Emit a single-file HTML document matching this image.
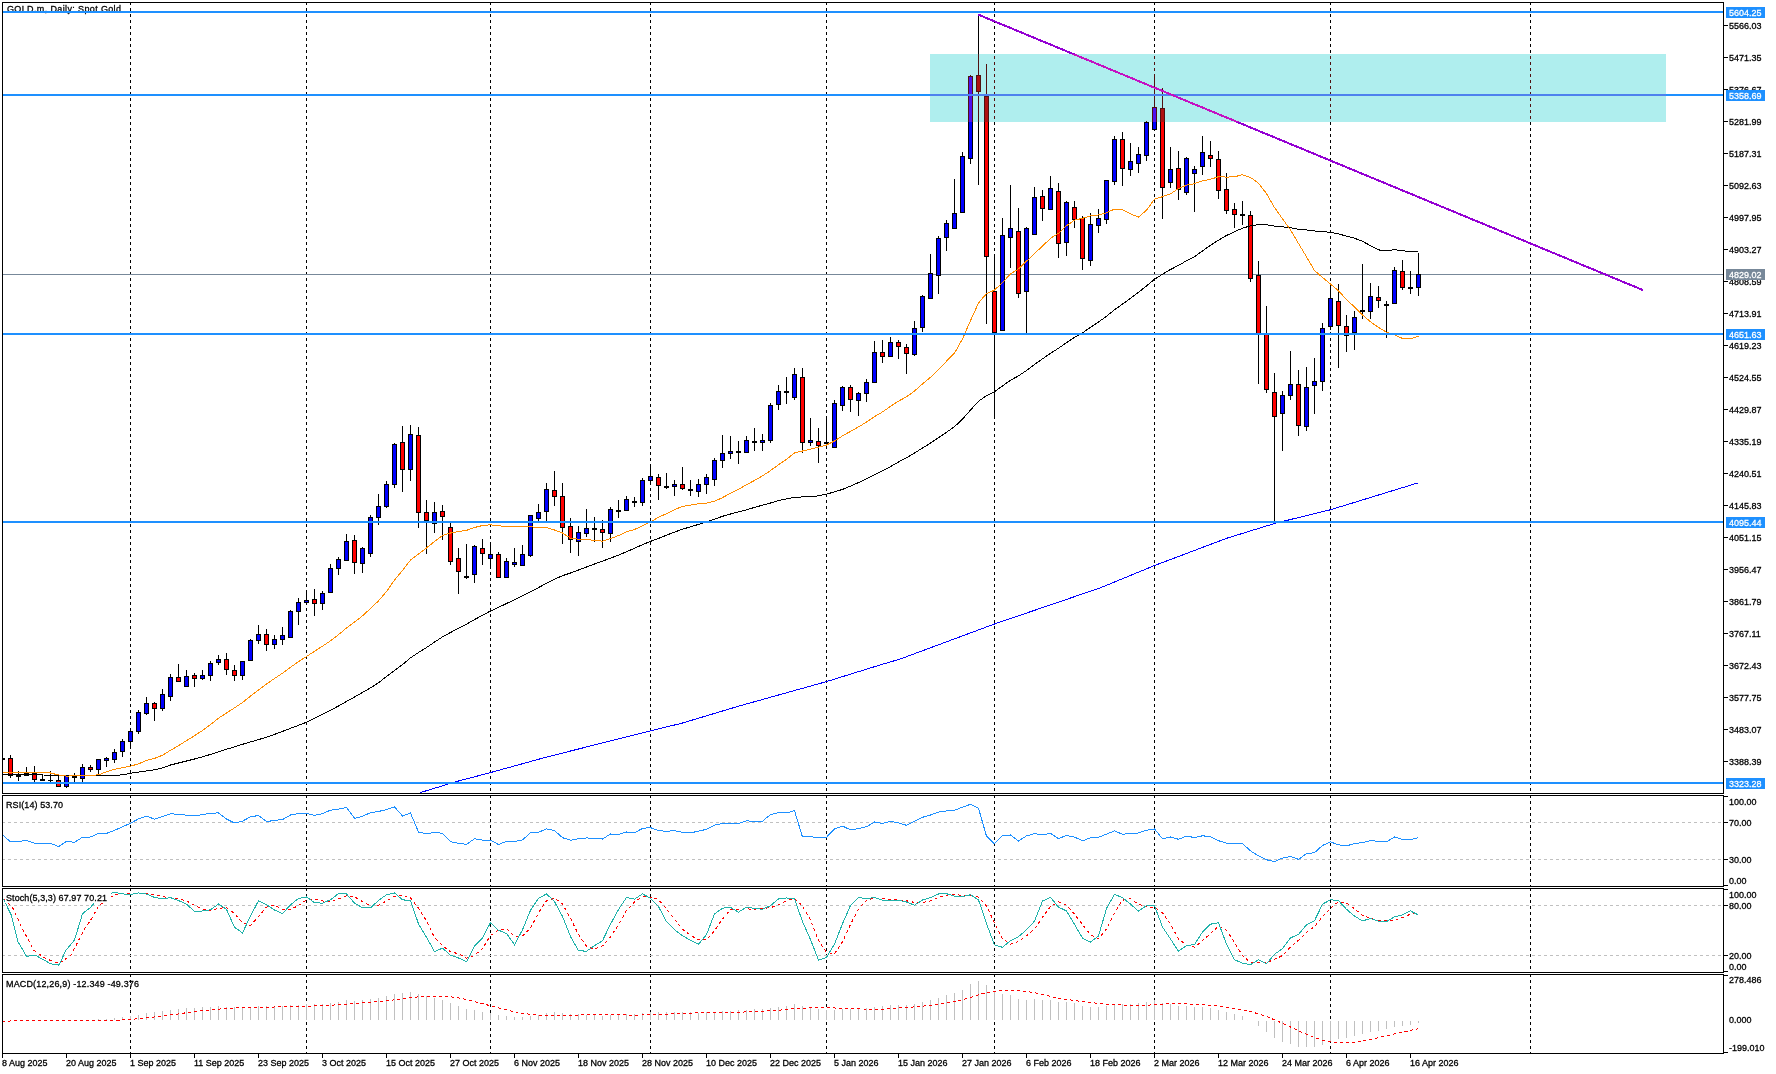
<!DOCTYPE html>
<html><head><meta charset="utf-8"><style>
html,body{margin:0;padding:0;background:#fff;overflow:hidden;}
svg{display:block;}
text{font-family:"Liberation Sans",sans-serif;}
svg{will-change:transform;}
</style></head><body>
<svg width="1776" height="1074" viewBox="0 0 1776 1074" shape-rendering="crispEdges" style="isolation:isolate">
<rect x="0" y="0" width="1776" height="1074" fill="#fff"/>
<rect x="2" y="2" width="1722" height="1" fill="#000"/>
<rect x="2" y="793" width="1722" height="1" fill="#000"/>
<rect x="2" y="2" width="1" height="792" fill="#000"/>
<rect x="1723" y="2" width="1" height="792" fill="#000"/>
<rect x="2" y="795" width="1722" height="1" fill="#000"/>
<rect x="2" y="886" width="1722" height="1" fill="#000"/>
<rect x="2" y="795" width="1" height="92" fill="#000"/>
<rect x="1723" y="795" width="1" height="92" fill="#000"/>
<rect x="2" y="888" width="1722" height="1" fill="#000"/>
<rect x="2" y="972" width="1722" height="1" fill="#000"/>
<rect x="2" y="888" width="1" height="85" fill="#000"/>
<rect x="1723" y="888" width="1" height="85" fill="#000"/>
<rect x="2" y="974" width="1722" height="1" fill="#000"/>
<rect x="2" y="1053" width="1722" height="1" fill="#000"/>
<rect x="2" y="974" width="1" height="80" fill="#000"/>
<rect x="1723" y="974" width="1" height="80" fill="#000"/>
<line x1="130.5" y1="795" x2="130.5" y2="886" stroke="#000" stroke-width="1" stroke-dasharray="3,3"/>
<line x1="306.5" y1="795" x2="306.5" y2="886" stroke="#000" stroke-width="1" stroke-dasharray="3,3"/>
<line x1="490.5" y1="795" x2="490.5" y2="886" stroke="#000" stroke-width="1" stroke-dasharray="3,3"/>
<line x1="650.5" y1="795" x2="650.5" y2="886" stroke="#000" stroke-width="1" stroke-dasharray="3,3"/>
<line x1="826.5" y1="795" x2="826.5" y2="886" stroke="#000" stroke-width="1" stroke-dasharray="3,3"/>
<line x1="994.5" y1="795" x2="994.5" y2="886" stroke="#000" stroke-width="1" stroke-dasharray="3,3"/>
<line x1="1154.5" y1="795" x2="1154.5" y2="886" stroke="#000" stroke-width="1" stroke-dasharray="3,3"/>
<line x1="1330.5" y1="795" x2="1330.5" y2="886" stroke="#000" stroke-width="1" stroke-dasharray="3,3"/>
<line x1="1530.5" y1="795" x2="1530.5" y2="886" stroke="#000" stroke-width="1" stroke-dasharray="3,3"/>
<line x1="130.5" y1="888" x2="130.5" y2="972" stroke="#000" stroke-width="1" stroke-dasharray="3,3"/>
<line x1="306.5" y1="888" x2="306.5" y2="972" stroke="#000" stroke-width="1" stroke-dasharray="3,3"/>
<line x1="490.5" y1="888" x2="490.5" y2="972" stroke="#000" stroke-width="1" stroke-dasharray="3,3"/>
<line x1="650.5" y1="888" x2="650.5" y2="972" stroke="#000" stroke-width="1" stroke-dasharray="3,3"/>
<line x1="826.5" y1="888" x2="826.5" y2="972" stroke="#000" stroke-width="1" stroke-dasharray="3,3"/>
<line x1="994.5" y1="888" x2="994.5" y2="972" stroke="#000" stroke-width="1" stroke-dasharray="3,3"/>
<line x1="1154.5" y1="888" x2="1154.5" y2="972" stroke="#000" stroke-width="1" stroke-dasharray="3,3"/>
<line x1="1330.5" y1="888" x2="1330.5" y2="972" stroke="#000" stroke-width="1" stroke-dasharray="3,3"/>
<line x1="1530.5" y1="888" x2="1530.5" y2="972" stroke="#000" stroke-width="1" stroke-dasharray="3,3"/>
<line x1="130.5" y1="974" x2="130.5" y2="1053" stroke="#000" stroke-width="1" stroke-dasharray="3,3"/>
<line x1="306.5" y1="974" x2="306.5" y2="1053" stroke="#000" stroke-width="1" stroke-dasharray="3,3"/>
<line x1="490.5" y1="974" x2="490.5" y2="1053" stroke="#000" stroke-width="1" stroke-dasharray="3,3"/>
<line x1="650.5" y1="974" x2="650.5" y2="1053" stroke="#000" stroke-width="1" stroke-dasharray="3,3"/>
<line x1="826.5" y1="974" x2="826.5" y2="1053" stroke="#000" stroke-width="1" stroke-dasharray="3,3"/>
<line x1="994.5" y1="974" x2="994.5" y2="1053" stroke="#000" stroke-width="1" stroke-dasharray="3,3"/>
<line x1="1154.5" y1="974" x2="1154.5" y2="1053" stroke="#000" stroke-width="1" stroke-dasharray="3,3"/>
<line x1="1330.5" y1="974" x2="1330.5" y2="1053" stroke="#000" stroke-width="1" stroke-dasharray="3,3"/>
<line x1="1530.5" y1="974" x2="1530.5" y2="1053" stroke="#000" stroke-width="1" stroke-dasharray="3,3"/>
<clipPath id="cm"><rect x="3" y="3" width="1720" height="790"/></clipPath>
<clipPath id="cx"><rect x="930" y="54" width="736" height="68"/></clipPath>
<g clip-path="url(#cm)">
<line x1="130.5" y1="2" x2="130.5" y2="793" stroke="#000000" stroke-width="1" stroke-dasharray="3,3"/>
<line x1="306.5" y1="2" x2="306.5" y2="793" stroke="#000000" stroke-width="1" stroke-dasharray="3,3"/>
<line x1="490.5" y1="2" x2="490.5" y2="793" stroke="#000000" stroke-width="1" stroke-dasharray="3,3"/>
<line x1="650.5" y1="2" x2="650.5" y2="793" stroke="#000000" stroke-width="1" stroke-dasharray="3,3"/>
<line x1="826.5" y1="2" x2="826.5" y2="793" stroke="#000000" stroke-width="1" stroke-dasharray="3,3"/>
<line x1="994.5" y1="2" x2="994.5" y2="793" stroke="#000000" stroke-width="1" stroke-dasharray="3,3"/>
<line x1="1154.5" y1="2" x2="1154.5" y2="793" stroke="#000000" stroke-width="1" stroke-dasharray="3,3"/>
<line x1="1330.5" y1="2" x2="1330.5" y2="793" stroke="#000000" stroke-width="1" stroke-dasharray="3,3"/>
<line x1="1530.5" y1="2" x2="1530.5" y2="793" stroke="#000000" stroke-width="1" stroke-dasharray="3,3"/>
<text transform="translate(7,12) scale(0.9375,1)" x="0" y="0" font-size="9.6" fill="#000" stroke="#000" stroke-width="0.3" textLength="121.6" lengthAdjust="spacing">GOLD.m, Daily:  Spot Gold</text>
<rect x="3" y="274" width="1720" height="1" fill="#778899"/>
<rect x="2" y="757" width="1" height="3" fill="#000000"/>
<rect x="0" y="758" width="5" height="2" fill="#000000"/>
<rect x="10" y="755" width="1" height="23" fill="#000000"/>
<rect x="8" y="758" width="5" height="18" fill="#000000"/>
<rect x="9" y="759" width="3" height="16" fill="#ff0000"/>
<rect x="18" y="771" width="1" height="10" fill="#000000"/>
<rect x="16" y="775" width="5" height="2" fill="#000000"/>
<rect x="26" y="767" width="1" height="9" fill="#000000"/>
<rect x="24" y="773" width="5" height="3" fill="#000000"/>
<rect x="25" y="774" width="3" height="1" fill="#0000ff"/>
<rect x="34" y="766" width="1" height="16" fill="#000000"/>
<rect x="32" y="773" width="5" height="7" fill="#000000"/>
<rect x="33" y="774" width="3" height="5" fill="#ff0000"/>
<rect x="42" y="774" width="1" height="7" fill="#000000"/>
<rect x="40" y="779" width="5" height="2" fill="#000000"/>
<rect x="50" y="771" width="1" height="11" fill="#000000"/>
<rect x="48" y="780" width="5" height="1" fill="#000000"/>
<rect x="58" y="775" width="1" height="12" fill="#000000"/>
<rect x="56" y="780" width="5" height="7" fill="#000000"/>
<rect x="57" y="781" width="3" height="5" fill="#ff0000"/>
<rect x="66" y="775" width="1" height="13" fill="#000000"/>
<rect x="64" y="775" width="5" height="12" fill="#000000"/>
<rect x="65" y="776" width="3" height="10" fill="#0000ff"/>
<rect x="74" y="773" width="1" height="9" fill="#000000"/>
<rect x="72" y="776" width="5" height="2" fill="#000000"/>
<rect x="82" y="764" width="1" height="20" fill="#000000"/>
<rect x="80" y="767" width="5" height="12" fill="#000000"/>
<rect x="81" y="768" width="3" height="10" fill="#0000ff"/>
<rect x="90" y="765" width="1" height="7" fill="#000000"/>
<rect x="88" y="767" width="5" height="3" fill="#000000"/>
<rect x="89" y="768" width="3" height="1" fill="#ff0000"/>
<rect x="98" y="759" width="1" height="15" fill="#000000"/>
<rect x="96" y="759" width="5" height="11" fill="#000000"/>
<rect x="97" y="760" width="3" height="9" fill="#0000ff"/>
<rect x="106" y="757" width="1" height="10" fill="#000000"/>
<rect x="104" y="758" width="5" height="3" fill="#000000"/>
<rect x="105" y="759" width="3" height="1" fill="#0000ff"/>
<rect x="114" y="749" width="1" height="14" fill="#000000"/>
<rect x="112" y="752" width="5" height="8" fill="#000000"/>
<rect x="113" y="753" width="3" height="6" fill="#0000ff"/>
<rect x="122" y="739" width="1" height="18" fill="#000000"/>
<rect x="120" y="741" width="5" height="11" fill="#000000"/>
<rect x="121" y="742" width="3" height="9" fill="#0000ff"/>
<rect x="130" y="728" width="1" height="20" fill="#000000"/>
<rect x="128" y="731" width="5" height="11" fill="#000000"/>
<rect x="129" y="732" width="3" height="9" fill="#0000ff"/>
<rect x="138" y="710" width="1" height="24" fill="#000000"/>
<rect x="136" y="712" width="5" height="20" fill="#000000"/>
<rect x="137" y="713" width="3" height="18" fill="#0000ff"/>
<rect x="146" y="697" width="1" height="18" fill="#000000"/>
<rect x="144" y="703" width="5" height="11" fill="#000000"/>
<rect x="145" y="704" width="3" height="9" fill="#0000ff"/>
<rect x="154" y="702" width="1" height="19" fill="#000000"/>
<rect x="152" y="703" width="5" height="6" fill="#000000"/>
<rect x="153" y="704" width="3" height="4" fill="#ff0000"/>
<rect x="162" y="689" width="1" height="22" fill="#000000"/>
<rect x="160" y="694" width="5" height="15" fill="#000000"/>
<rect x="161" y="695" width="3" height="13" fill="#0000ff"/>
<rect x="170" y="674" width="1" height="27" fill="#000000"/>
<rect x="168" y="677" width="5" height="20" fill="#000000"/>
<rect x="169" y="678" width="3" height="18" fill="#0000ff"/>
<rect x="178" y="664" width="1" height="18" fill="#000000"/>
<rect x="176" y="677" width="5" height="5" fill="#000000"/>
<rect x="177" y="678" width="3" height="3" fill="#ff0000"/>
<rect x="186" y="670" width="1" height="17" fill="#000000"/>
<rect x="184" y="676" width="5" height="11" fill="#000000"/>
<rect x="185" y="677" width="3" height="9" fill="#0000ff"/>
<rect x="194" y="673" width="1" height="14" fill="#000000"/>
<rect x="192" y="675" width="5" height="4" fill="#000000"/>
<rect x="193" y="676" width="3" height="2" fill="#ff0000"/>
<rect x="202" y="670" width="1" height="10" fill="#000000"/>
<rect x="200" y="675" width="5" height="4" fill="#000000"/>
<rect x="201" y="676" width="3" height="2" fill="#0000ff"/>
<rect x="210" y="661" width="1" height="20" fill="#000000"/>
<rect x="208" y="663" width="5" height="13" fill="#000000"/>
<rect x="209" y="664" width="3" height="11" fill="#0000ff"/>
<rect x="218" y="655" width="1" height="10" fill="#000000"/>
<rect x="216" y="659" width="5" height="4" fill="#000000"/>
<rect x="217" y="660" width="3" height="2" fill="#0000ff"/>
<rect x="226" y="653" width="1" height="22" fill="#000000"/>
<rect x="224" y="659" width="5" height="11" fill="#000000"/>
<rect x="225" y="660" width="3" height="9" fill="#ff0000"/>
<rect x="234" y="665" width="1" height="16" fill="#000000"/>
<rect x="232" y="670" width="5" height="6" fill="#000000"/>
<rect x="233" y="671" width="3" height="4" fill="#ff0000"/>
<rect x="242" y="661" width="1" height="19" fill="#000000"/>
<rect x="240" y="661" width="5" height="15" fill="#000000"/>
<rect x="241" y="662" width="3" height="13" fill="#0000ff"/>
<rect x="250" y="639" width="1" height="22" fill="#000000"/>
<rect x="248" y="640" width="5" height="21" fill="#000000"/>
<rect x="249" y="641" width="3" height="19" fill="#0000ff"/>
<rect x="258" y="625" width="1" height="19" fill="#000000"/>
<rect x="256" y="634" width="5" height="7" fill="#000000"/>
<rect x="257" y="635" width="3" height="5" fill="#0000ff"/>
<rect x="266" y="629" width="1" height="22" fill="#000000"/>
<rect x="264" y="634" width="5" height="11" fill="#000000"/>
<rect x="265" y="635" width="3" height="9" fill="#ff0000"/>
<rect x="274" y="635" width="1" height="14" fill="#000000"/>
<rect x="272" y="639" width="5" height="6" fill="#000000"/>
<rect x="273" y="640" width="3" height="4" fill="#0000ff"/>
<rect x="282" y="627" width="1" height="18" fill="#000000"/>
<rect x="280" y="635" width="5" height="5" fill="#000000"/>
<rect x="281" y="636" width="3" height="3" fill="#0000ff"/>
<rect x="290" y="610" width="1" height="28" fill="#000000"/>
<rect x="288" y="611" width="5" height="27" fill="#000000"/>
<rect x="289" y="612" width="3" height="25" fill="#0000ff"/>
<rect x="298" y="598" width="1" height="27" fill="#000000"/>
<rect x="296" y="602" width="5" height="10" fill="#000000"/>
<rect x="297" y="603" width="3" height="8" fill="#0000ff"/>
<rect x="306" y="590" width="1" height="13" fill="#000000"/>
<rect x="304" y="600" width="5" height="3" fill="#000000"/>
<rect x="305" y="601" width="3" height="1" fill="#0000ff"/>
<rect x="314" y="589" width="1" height="27" fill="#000000"/>
<rect x="312" y="599" width="5" height="5" fill="#000000"/>
<rect x="313" y="600" width="3" height="3" fill="#ff0000"/>
<rect x="322" y="591" width="1" height="19" fill="#000000"/>
<rect x="320" y="593" width="5" height="11" fill="#000000"/>
<rect x="321" y="594" width="3" height="9" fill="#0000ff"/>
<rect x="330" y="564" width="1" height="29" fill="#000000"/>
<rect x="328" y="568" width="5" height="25" fill="#000000"/>
<rect x="329" y="569" width="3" height="23" fill="#0000ff"/>
<rect x="338" y="557" width="1" height="18" fill="#000000"/>
<rect x="336" y="559" width="5" height="10" fill="#000000"/>
<rect x="337" y="560" width="3" height="8" fill="#0000ff"/>
<rect x="346" y="534" width="1" height="27" fill="#000000"/>
<rect x="344" y="541" width="5" height="20" fill="#000000"/>
<rect x="345" y="542" width="3" height="18" fill="#0000ff"/>
<rect x="354" y="535" width="1" height="39" fill="#000000"/>
<rect x="352" y="540" width="5" height="23" fill="#000000"/>
<rect x="353" y="541" width="3" height="21" fill="#ff0000"/>
<rect x="362" y="547" width="1" height="26" fill="#000000"/>
<rect x="360" y="548" width="5" height="16" fill="#000000"/>
<rect x="361" y="549" width="3" height="14" fill="#0000ff"/>
<rect x="370" y="515" width="1" height="42" fill="#000000"/>
<rect x="368" y="517" width="5" height="37" fill="#000000"/>
<rect x="369" y="518" width="3" height="35" fill="#0000ff"/>
<rect x="378" y="494" width="1" height="31" fill="#000000"/>
<rect x="376" y="506" width="5" height="12" fill="#000000"/>
<rect x="377" y="507" width="3" height="10" fill="#0000ff"/>
<rect x="386" y="481" width="1" height="27" fill="#000000"/>
<rect x="384" y="484" width="5" height="23" fill="#000000"/>
<rect x="385" y="485" width="3" height="21" fill="#0000ff"/>
<rect x="394" y="443" width="1" height="45" fill="#000000"/>
<rect x="392" y="444" width="5" height="41" fill="#000000"/>
<rect x="393" y="445" width="3" height="39" fill="#0000ff"/>
<rect x="402" y="426" width="1" height="66" fill="#000000"/>
<rect x="400" y="442" width="5" height="28" fill="#000000"/>
<rect x="401" y="443" width="3" height="26" fill="#ff0000"/>
<rect x="410" y="425" width="1" height="56" fill="#000000"/>
<rect x="408" y="434" width="5" height="36" fill="#000000"/>
<rect x="409" y="435" width="3" height="34" fill="#0000ff"/>
<rect x="418" y="427" width="1" height="101" fill="#000000"/>
<rect x="416" y="435" width="5" height="78" fill="#000000"/>
<rect x="417" y="436" width="3" height="76" fill="#ff0000"/>
<rect x="426" y="500" width="1" height="54" fill="#000000"/>
<rect x="424" y="512" width="5" height="9" fill="#000000"/>
<rect x="425" y="513" width="3" height="7" fill="#ff0000"/>
<rect x="434" y="502" width="1" height="31" fill="#000000"/>
<rect x="432" y="512" width="5" height="12" fill="#000000"/>
<rect x="433" y="513" width="3" height="10" fill="#0000ff"/>
<rect x="442" y="505" width="1" height="35" fill="#000000"/>
<rect x="440" y="511" width="5" height="6" fill="#000000"/>
<rect x="441" y="512" width="3" height="4" fill="#ff0000"/>
<rect x="450" y="523" width="1" height="42" fill="#000000"/>
<rect x="448" y="527" width="5" height="35" fill="#000000"/>
<rect x="449" y="528" width="3" height="33" fill="#ff0000"/>
<rect x="458" y="548" width="1" height="46" fill="#000000"/>
<rect x="456" y="558" width="5" height="14" fill="#000000"/>
<rect x="457" y="559" width="3" height="12" fill="#ff0000"/>
<rect x="466" y="544" width="1" height="35" fill="#000000"/>
<rect x="464" y="576" width="5" height="2" fill="#000000"/>
<rect x="474" y="545" width="1" height="38" fill="#000000"/>
<rect x="472" y="546" width="5" height="29" fill="#000000"/>
<rect x="473" y="547" width="3" height="27" fill="#0000ff"/>
<rect x="482" y="539" width="1" height="26" fill="#000000"/>
<rect x="480" y="548" width="5" height="6" fill="#000000"/>
<rect x="481" y="549" width="3" height="4" fill="#ff0000"/>
<rect x="490" y="542" width="1" height="26" fill="#000000"/>
<rect x="488" y="554" width="5" height="5" fill="#000000"/>
<rect x="489" y="555" width="3" height="3" fill="#0000ff"/>
<rect x="498" y="552" width="1" height="26" fill="#000000"/>
<rect x="496" y="554" width="5" height="24" fill="#000000"/>
<rect x="497" y="555" width="3" height="22" fill="#ff0000"/>
<rect x="506" y="558" width="1" height="20" fill="#000000"/>
<rect x="504" y="561" width="5" height="17" fill="#000000"/>
<rect x="505" y="562" width="3" height="15" fill="#0000ff"/>
<rect x="514" y="548" width="1" height="19" fill="#000000"/>
<rect x="512" y="562" width="5" height="3" fill="#000000"/>
<rect x="513" y="563" width="3" height="1" fill="#0000ff"/>
<rect x="522" y="545" width="1" height="21" fill="#000000"/>
<rect x="520" y="554" width="5" height="12" fill="#000000"/>
<rect x="521" y="555" width="3" height="10" fill="#0000ff"/>
<rect x="530" y="515" width="1" height="42" fill="#000000"/>
<rect x="528" y="515" width="5" height="41" fill="#000000"/>
<rect x="529" y="516" width="3" height="39" fill="#0000ff"/>
<rect x="538" y="504" width="1" height="17" fill="#000000"/>
<rect x="536" y="512" width="5" height="7" fill="#000000"/>
<rect x="537" y="513" width="3" height="5" fill="#0000ff"/>
<rect x="546" y="483" width="1" height="38" fill="#000000"/>
<rect x="544" y="489" width="5" height="23" fill="#000000"/>
<rect x="545" y="490" width="3" height="21" fill="#0000ff"/>
<rect x="554" y="471" width="1" height="35" fill="#000000"/>
<rect x="552" y="490" width="5" height="7" fill="#000000"/>
<rect x="553" y="491" width="3" height="5" fill="#ff0000"/>
<rect x="562" y="483" width="1" height="61" fill="#000000"/>
<rect x="560" y="496" width="5" height="32" fill="#000000"/>
<rect x="561" y="497" width="3" height="30" fill="#ff0000"/>
<rect x="570" y="518" width="1" height="35" fill="#000000"/>
<rect x="568" y="526" width="5" height="14" fill="#000000"/>
<rect x="569" y="527" width="3" height="12" fill="#ff0000"/>
<rect x="578" y="526" width="1" height="30" fill="#000000"/>
<rect x="576" y="532" width="5" height="10" fill="#000000"/>
<rect x="577" y="533" width="3" height="8" fill="#0000ff"/>
<rect x="586" y="509" width="1" height="28" fill="#000000"/>
<rect x="584" y="528" width="5" height="6" fill="#000000"/>
<rect x="585" y="529" width="3" height="4" fill="#0000ff"/>
<rect x="594" y="517" width="1" height="25" fill="#000000"/>
<rect x="592" y="528" width="5" height="2" fill="#000000"/>
<rect x="602" y="520" width="1" height="28" fill="#000000"/>
<rect x="600" y="529" width="5" height="4" fill="#000000"/>
<rect x="601" y="530" width="3" height="2" fill="#ff0000"/>
<rect x="610" y="507" width="1" height="35" fill="#000000"/>
<rect x="608" y="509" width="5" height="25" fill="#000000"/>
<rect x="609" y="510" width="3" height="23" fill="#0000ff"/>
<rect x="618" y="500" width="1" height="18" fill="#000000"/>
<rect x="616" y="510" width="5" height="2" fill="#000000"/>
<rect x="626" y="496" width="1" height="15" fill="#000000"/>
<rect x="624" y="499" width="5" height="12" fill="#000000"/>
<rect x="625" y="500" width="3" height="10" fill="#0000ff"/>
<rect x="634" y="497" width="1" height="10" fill="#000000"/>
<rect x="632" y="501" width="5" height="2" fill="#000000"/>
<rect x="642" y="478" width="1" height="28" fill="#000000"/>
<rect x="640" y="480" width="5" height="23" fill="#000000"/>
<rect x="641" y="481" width="3" height="21" fill="#0000ff"/>
<rect x="650" y="464" width="1" height="21" fill="#000000"/>
<rect x="648" y="476" width="5" height="5" fill="#000000"/>
<rect x="649" y="477" width="3" height="3" fill="#0000ff"/>
<rect x="658" y="474" width="1" height="26" fill="#000000"/>
<rect x="656" y="477" width="5" height="9" fill="#000000"/>
<rect x="657" y="478" width="3" height="7" fill="#ff0000"/>
<rect x="666" y="473" width="1" height="16" fill="#000000"/>
<rect x="664" y="486" width="5" height="2" fill="#000000"/>
<rect x="674" y="480" width="1" height="16" fill="#000000"/>
<rect x="672" y="484" width="5" height="3" fill="#000000"/>
<rect x="673" y="485" width="3" height="1" fill="#0000ff"/>
<rect x="682" y="467" width="1" height="23" fill="#000000"/>
<rect x="680" y="484" width="5" height="5" fill="#000000"/>
<rect x="681" y="485" width="3" height="3" fill="#ff0000"/>
<rect x="690" y="480" width="1" height="16" fill="#000000"/>
<rect x="688" y="489" width="5" height="2" fill="#000000"/>
<rect x="698" y="479" width="1" height="18" fill="#000000"/>
<rect x="696" y="484" width="5" height="8" fill="#000000"/>
<rect x="697" y="485" width="3" height="6" fill="#0000ff"/>
<rect x="706" y="474" width="1" height="20" fill="#000000"/>
<rect x="704" y="477" width="5" height="8" fill="#000000"/>
<rect x="705" y="478" width="3" height="6" fill="#0000ff"/>
<rect x="714" y="458" width="1" height="28" fill="#000000"/>
<rect x="712" y="460" width="5" height="20" fill="#000000"/>
<rect x="713" y="461" width="3" height="18" fill="#0000ff"/>
<rect x="722" y="435" width="1" height="33" fill="#000000"/>
<rect x="720" y="453" width="5" height="8" fill="#000000"/>
<rect x="721" y="454" width="3" height="6" fill="#0000ff"/>
<rect x="730" y="436" width="1" height="23" fill="#000000"/>
<rect x="728" y="451" width="5" height="3" fill="#000000"/>
<rect x="729" y="452" width="3" height="1" fill="#0000ff"/>
<rect x="738" y="441" width="1" height="23" fill="#000000"/>
<rect x="736" y="451" width="5" height="2" fill="#000000"/>
<rect x="746" y="436" width="1" height="17" fill="#000000"/>
<rect x="744" y="440" width="5" height="13" fill="#000000"/>
<rect x="745" y="441" width="3" height="11" fill="#0000ff"/>
<rect x="754" y="428" width="1" height="23" fill="#000000"/>
<rect x="752" y="441" width="5" height="2" fill="#000000"/>
<rect x="762" y="434" width="1" height="17" fill="#000000"/>
<rect x="760" y="440" width="5" height="3" fill="#000000"/>
<rect x="761" y="441" width="3" height="1" fill="#0000ff"/>
<rect x="770" y="403" width="1" height="40" fill="#000000"/>
<rect x="768" y="405" width="5" height="36" fill="#000000"/>
<rect x="769" y="406" width="3" height="34" fill="#0000ff"/>
<rect x="778" y="385" width="1" height="25" fill="#000000"/>
<rect x="776" y="391" width="5" height="14" fill="#000000"/>
<rect x="777" y="392" width="3" height="12" fill="#0000ff"/>
<rect x="786" y="377" width="1" height="27" fill="#000000"/>
<rect x="784" y="391" width="5" height="2" fill="#000000"/>
<rect x="794" y="368" width="1" height="32" fill="#000000"/>
<rect x="792" y="374" width="5" height="24" fill="#000000"/>
<rect x="793" y="375" width="3" height="22" fill="#0000ff"/>
<rect x="802" y="368" width="1" height="85" fill="#000000"/>
<rect x="800" y="377" width="5" height="66" fill="#000000"/>
<rect x="801" y="378" width="3" height="64" fill="#ff0000"/>
<rect x="810" y="418" width="1" height="28" fill="#000000"/>
<rect x="808" y="440" width="5" height="3" fill="#000000"/>
<rect x="809" y="441" width="3" height="1" fill="#0000ff"/>
<rect x="818" y="428" width="1" height="35" fill="#000000"/>
<rect x="816" y="441" width="5" height="5" fill="#000000"/>
<rect x="817" y="442" width="3" height="3" fill="#ff0000"/>
<rect x="826" y="416" width="1" height="29" fill="#000000"/>
<rect x="824" y="442" width="5" height="2" fill="#000000"/>
<rect x="834" y="400" width="1" height="48" fill="#000000"/>
<rect x="832" y="403" width="5" height="45" fill="#000000"/>
<rect x="833" y="404" width="3" height="43" fill="#0000ff"/>
<rect x="842" y="386" width="1" height="25" fill="#000000"/>
<rect x="840" y="387" width="5" height="19" fill="#000000"/>
<rect x="841" y="388" width="3" height="17" fill="#0000ff"/>
<rect x="850" y="385" width="1" height="27" fill="#000000"/>
<rect x="848" y="387" width="5" height="13" fill="#000000"/>
<rect x="849" y="388" width="3" height="11" fill="#ff0000"/>
<rect x="858" y="392" width="1" height="24" fill="#000000"/>
<rect x="856" y="393" width="5" height="8" fill="#000000"/>
<rect x="857" y="394" width="3" height="6" fill="#0000ff"/>
<rect x="866" y="379" width="1" height="23" fill="#000000"/>
<rect x="864" y="382" width="5" height="12" fill="#000000"/>
<rect x="865" y="383" width="3" height="10" fill="#0000ff"/>
<rect x="874" y="341" width="1" height="42" fill="#000000"/>
<rect x="872" y="352" width="5" height="31" fill="#000000"/>
<rect x="873" y="353" width="3" height="29" fill="#0000ff"/>
<rect x="882" y="340" width="1" height="23" fill="#000000"/>
<rect x="880" y="352" width="5" height="5" fill="#000000"/>
<rect x="881" y="353" width="3" height="3" fill="#ff0000"/>
<rect x="890" y="337" width="1" height="20" fill="#000000"/>
<rect x="888" y="342" width="5" height="15" fill="#000000"/>
<rect x="889" y="343" width="3" height="13" fill="#0000ff"/>
<rect x="898" y="340" width="1" height="19" fill="#000000"/>
<rect x="896" y="342" width="5" height="5" fill="#000000"/>
<rect x="897" y="343" width="3" height="3" fill="#ff0000"/>
<rect x="906" y="344" width="1" height="30" fill="#000000"/>
<rect x="904" y="347" width="5" height="7" fill="#000000"/>
<rect x="905" y="348" width="3" height="5" fill="#ff0000"/>
<rect x="914" y="321" width="1" height="35" fill="#000000"/>
<rect x="912" y="328" width="5" height="27" fill="#000000"/>
<rect x="913" y="329" width="3" height="25" fill="#0000ff"/>
<rect x="922" y="295" width="1" height="37" fill="#000000"/>
<rect x="920" y="296" width="5" height="32" fill="#000000"/>
<rect x="921" y="297" width="3" height="30" fill="#0000ff"/>
<rect x="930" y="254" width="1" height="45" fill="#000000"/>
<rect x="928" y="273" width="5" height="26" fill="#000000"/>
<rect x="929" y="274" width="3" height="24" fill="#0000ff"/>
<rect x="938" y="236" width="1" height="58" fill="#000000"/>
<rect x="936" y="238" width="5" height="38" fill="#000000"/>
<rect x="937" y="239" width="3" height="36" fill="#0000ff"/>
<rect x="946" y="220" width="1" height="31" fill="#000000"/>
<rect x="944" y="223" width="5" height="15" fill="#000000"/>
<rect x="945" y="224" width="3" height="13" fill="#0000ff"/>
<rect x="954" y="179" width="1" height="50" fill="#000000"/>
<rect x="952" y="213" width="5" height="16" fill="#000000"/>
<rect x="953" y="214" width="3" height="14" fill="#0000ff"/>
<rect x="962" y="152" width="1" height="61" fill="#000000"/>
<rect x="960" y="156" width="5" height="57" fill="#000000"/>
<rect x="961" y="157" width="3" height="55" fill="#0000ff"/>
<rect x="970" y="75" width="1" height="89" fill="#000000"/>
<rect x="968" y="76" width="5" height="83" fill="#000000"/>
<rect x="969" y="77" width="3" height="81" fill="#0000ff"/>
<rect x="978" y="15" width="1" height="170" fill="#000000"/>
<rect x="976" y="75" width="5" height="17" fill="#000000"/>
<rect x="977" y="76" width="3" height="15" fill="#ff0000"/>
<rect x="986" y="64" width="1" height="260" fill="#000000"/>
<rect x="984" y="96" width="5" height="161" fill="#000000"/>
<rect x="985" y="97" width="3" height="159" fill="#ff0000"/>
<rect x="994" y="254" width="1" height="164" fill="#000000"/>
<rect x="992" y="291" width="5" height="42" fill="#000000"/>
<rect x="993" y="292" width="3" height="40" fill="#ff0000"/>
<rect x="1002" y="218" width="1" height="113" fill="#000000"/>
<rect x="1000" y="235" width="5" height="96" fill="#000000"/>
<rect x="1001" y="236" width="3" height="94" fill="#0000ff"/>
<rect x="1010" y="185" width="1" height="83" fill="#000000"/>
<rect x="1008" y="228" width="5" height="10" fill="#000000"/>
<rect x="1009" y="229" width="3" height="8" fill="#0000ff"/>
<rect x="1018" y="208" width="1" height="90" fill="#000000"/>
<rect x="1016" y="231" width="5" height="63" fill="#000000"/>
<rect x="1017" y="232" width="3" height="61" fill="#ff0000"/>
<rect x="1026" y="227" width="1" height="106" fill="#000000"/>
<rect x="1024" y="228" width="5" height="64" fill="#000000"/>
<rect x="1025" y="229" width="3" height="62" fill="#0000ff"/>
<rect x="1034" y="187" width="1" height="48" fill="#000000"/>
<rect x="1032" y="197" width="5" height="38" fill="#000000"/>
<rect x="1033" y="198" width="3" height="36" fill="#0000ff"/>
<rect x="1042" y="190" width="1" height="31" fill="#000000"/>
<rect x="1040" y="196" width="5" height="13" fill="#000000"/>
<rect x="1041" y="197" width="3" height="11" fill="#ff0000"/>
<rect x="1050" y="176" width="1" height="34" fill="#000000"/>
<rect x="1048" y="188" width="5" height="22" fill="#000000"/>
<rect x="1049" y="189" width="3" height="20" fill="#0000ff"/>
<rect x="1058" y="183" width="1" height="75" fill="#000000"/>
<rect x="1056" y="191" width="5" height="53" fill="#000000"/>
<rect x="1057" y="192" width="3" height="51" fill="#ff0000"/>
<rect x="1066" y="201" width="1" height="55" fill="#000000"/>
<rect x="1064" y="202" width="5" height="41" fill="#000000"/>
<rect x="1065" y="203" width="3" height="39" fill="#0000ff"/>
<rect x="1074" y="201" width="1" height="27" fill="#000000"/>
<rect x="1072" y="207" width="5" height="13" fill="#000000"/>
<rect x="1073" y="208" width="3" height="11" fill="#ff0000"/>
<rect x="1082" y="216" width="1" height="54" fill="#000000"/>
<rect x="1080" y="218" width="5" height="41" fill="#000000"/>
<rect x="1081" y="219" width="3" height="39" fill="#ff0000"/>
<rect x="1090" y="213" width="1" height="53" fill="#000000"/>
<rect x="1088" y="224" width="5" height="37" fill="#000000"/>
<rect x="1089" y="225" width="3" height="35" fill="#0000ff"/>
<rect x="1098" y="209" width="1" height="24" fill="#000000"/>
<rect x="1096" y="218" width="5" height="8" fill="#000000"/>
<rect x="1097" y="219" width="3" height="6" fill="#0000ff"/>
<rect x="1106" y="180" width="1" height="44" fill="#000000"/>
<rect x="1104" y="180" width="5" height="40" fill="#000000"/>
<rect x="1105" y="181" width="3" height="38" fill="#0000ff"/>
<rect x="1114" y="136" width="1" height="49" fill="#000000"/>
<rect x="1112" y="139" width="5" height="43" fill="#000000"/>
<rect x="1113" y="140" width="3" height="41" fill="#0000ff"/>
<rect x="1122" y="132" width="1" height="54" fill="#000000"/>
<rect x="1120" y="139" width="5" height="30" fill="#000000"/>
<rect x="1121" y="140" width="3" height="28" fill="#ff0000"/>
<rect x="1130" y="143" width="1" height="33" fill="#000000"/>
<rect x="1128" y="161" width="5" height="9" fill="#000000"/>
<rect x="1129" y="162" width="3" height="7" fill="#0000ff"/>
<rect x="1138" y="147" width="1" height="26" fill="#000000"/>
<rect x="1136" y="154" width="5" height="10" fill="#000000"/>
<rect x="1137" y="155" width="3" height="8" fill="#0000ff"/>
<rect x="1146" y="121" width="1" height="40" fill="#000000"/>
<rect x="1144" y="122" width="5" height="34" fill="#000000"/>
<rect x="1145" y="123" width="3" height="32" fill="#0000ff"/>
<rect x="1154" y="75" width="1" height="55" fill="#000000"/>
<rect x="1152" y="107" width="5" height="23" fill="#000000"/>
<rect x="1153" y="108" width="3" height="21" fill="#0000ff"/>
<rect x="1162" y="88" width="1" height="131" fill="#000000"/>
<rect x="1160" y="108" width="5" height="80" fill="#000000"/>
<rect x="1161" y="109" width="3" height="78" fill="#ff0000"/>
<rect x="1170" y="147" width="1" height="41" fill="#000000"/>
<rect x="1168" y="169" width="5" height="14" fill="#000000"/>
<rect x="1169" y="170" width="3" height="12" fill="#0000ff"/>
<rect x="1178" y="151" width="1" height="49" fill="#000000"/>
<rect x="1176" y="168" width="5" height="22" fill="#000000"/>
<rect x="1177" y="169" width="3" height="20" fill="#ff0000"/>
<rect x="1186" y="157" width="1" height="38" fill="#000000"/>
<rect x="1184" y="158" width="5" height="35" fill="#000000"/>
<rect x="1185" y="159" width="3" height="33" fill="#0000ff"/>
<rect x="1194" y="166" width="1" height="46" fill="#000000"/>
<rect x="1192" y="169" width="5" height="5" fill="#000000"/>
<rect x="1193" y="170" width="3" height="3" fill="#0000ff"/>
<rect x="1202" y="136" width="1" height="39" fill="#000000"/>
<rect x="1200" y="152" width="5" height="15" fill="#000000"/>
<rect x="1201" y="153" width="3" height="13" fill="#0000ff"/>
<rect x="1210" y="141" width="1" height="26" fill="#000000"/>
<rect x="1208" y="155" width="5" height="4" fill="#000000"/>
<rect x="1209" y="156" width="3" height="2" fill="#ff0000"/>
<rect x="1218" y="151" width="1" height="48" fill="#000000"/>
<rect x="1216" y="159" width="5" height="32" fill="#000000"/>
<rect x="1217" y="160" width="3" height="30" fill="#ff0000"/>
<rect x="1226" y="173" width="1" height="41" fill="#000000"/>
<rect x="1224" y="189" width="5" height="22" fill="#000000"/>
<rect x="1225" y="190" width="3" height="20" fill="#ff0000"/>
<rect x="1234" y="203" width="1" height="25" fill="#000000"/>
<rect x="1232" y="209" width="5" height="6" fill="#000000"/>
<rect x="1233" y="210" width="3" height="4" fill="#ff0000"/>
<rect x="1242" y="201" width="1" height="24" fill="#000000"/>
<rect x="1240" y="214" width="5" height="2" fill="#000000"/>
<rect x="1250" y="211" width="1" height="71" fill="#000000"/>
<rect x="1248" y="215" width="5" height="64" fill="#000000"/>
<rect x="1249" y="216" width="3" height="62" fill="#ff0000"/>
<rect x="1258" y="261" width="1" height="123" fill="#000000"/>
<rect x="1256" y="275" width="5" height="60" fill="#000000"/>
<rect x="1257" y="276" width="3" height="58" fill="#ff0000"/>
<rect x="1266" y="306" width="1" height="87" fill="#000000"/>
<rect x="1264" y="333" width="5" height="57" fill="#000000"/>
<rect x="1265" y="334" width="3" height="55" fill="#ff0000"/>
<rect x="1274" y="373" width="1" height="148" fill="#000000"/>
<rect x="1272" y="392" width="5" height="25" fill="#000000"/>
<rect x="1273" y="393" width="3" height="23" fill="#ff0000"/>
<rect x="1282" y="391" width="1" height="60" fill="#000000"/>
<rect x="1280" y="395" width="5" height="19" fill="#000000"/>
<rect x="1281" y="396" width="3" height="17" fill="#0000ff"/>
<rect x="1290" y="351" width="1" height="49" fill="#000000"/>
<rect x="1288" y="384" width="5" height="12" fill="#000000"/>
<rect x="1289" y="385" width="3" height="10" fill="#0000ff"/>
<rect x="1298" y="370" width="1" height="66" fill="#000000"/>
<rect x="1296" y="384" width="5" height="42" fill="#000000"/>
<rect x="1297" y="385" width="3" height="40" fill="#ff0000"/>
<rect x="1306" y="367" width="1" height="64" fill="#000000"/>
<rect x="1304" y="387" width="5" height="40" fill="#000000"/>
<rect x="1305" y="388" width="3" height="38" fill="#0000ff"/>
<rect x="1314" y="358" width="1" height="56" fill="#000000"/>
<rect x="1312" y="381" width="5" height="5" fill="#000000"/>
<rect x="1313" y="382" width="3" height="3" fill="#0000ff"/>
<rect x="1322" y="323" width="1" height="68" fill="#000000"/>
<rect x="1320" y="328" width="5" height="54" fill="#000000"/>
<rect x="1321" y="329" width="3" height="52" fill="#0000ff"/>
<rect x="1330" y="285" width="1" height="45" fill="#000000"/>
<rect x="1328" y="298" width="5" height="29" fill="#000000"/>
<rect x="1329" y="299" width="3" height="27" fill="#0000ff"/>
<rect x="1338" y="284" width="1" height="84" fill="#000000"/>
<rect x="1336" y="301" width="5" height="25" fill="#000000"/>
<rect x="1337" y="302" width="3" height="23" fill="#ff0000"/>
<rect x="1346" y="315" width="1" height="37" fill="#000000"/>
<rect x="1344" y="326" width="5" height="10" fill="#000000"/>
<rect x="1345" y="327" width="3" height="8" fill="#ff0000"/>
<rect x="1354" y="311" width="1" height="39" fill="#000000"/>
<rect x="1352" y="317" width="5" height="16" fill="#000000"/>
<rect x="1353" y="318" width="3" height="14" fill="#0000ff"/>
<rect x="1362" y="264" width="1" height="55" fill="#000000"/>
<rect x="1360" y="310" width="5" height="2" fill="#000000"/>
<rect x="1370" y="283" width="1" height="36" fill="#000000"/>
<rect x="1368" y="296" width="5" height="16" fill="#000000"/>
<rect x="1369" y="297" width="3" height="14" fill="#0000ff"/>
<rect x="1378" y="286" width="1" height="22" fill="#000000"/>
<rect x="1376" y="297" width="5" height="4" fill="#000000"/>
<rect x="1377" y="298" width="3" height="2" fill="#ff0000"/>
<rect x="1386" y="301" width="1" height="37" fill="#000000"/>
<rect x="1384" y="304" width="5" height="2" fill="#000000"/>
<rect x="1394" y="267" width="1" height="37" fill="#000000"/>
<rect x="1392" y="270" width="5" height="34" fill="#000000"/>
<rect x="1393" y="271" width="3" height="32" fill="#0000ff"/>
<rect x="1402" y="260" width="1" height="30" fill="#000000"/>
<rect x="1400" y="271" width="5" height="17" fill="#000000"/>
<rect x="1401" y="272" width="3" height="15" fill="#ff0000"/>
<rect x="1410" y="271" width="1" height="23" fill="#000000"/>
<rect x="1408" y="287" width="5" height="2" fill="#000000"/>
<rect x="1418" y="253" width="1" height="43" fill="#000000"/>
<rect x="1416" y="274" width="5" height="14" fill="#000000"/>
<rect x="1417" y="275" width="3" height="12" fill="#0000ff"/>
<polyline points="419.7,792.8 456.3,781.6 490.4,772.6 546.4,757.1 650.3,730.9 681.5,723.3 737.8,706.4 826.5,681.6 880.0,665.0 900.0,659.1 994.5,624.0 1100.7,587.7 1154.4,565.6 1226.9,538.2 1275.8,523.1 1330.3,509.8 1417.7,483.0" fill="none" stroke="#0000ff" stroke-width="1"/>
<polyline points="2.5,774.6 10.5,774.7 18.5,774.8 26.5,774.8 34.5,774.9 42.5,775.0 50.5,775.1 58.5,775.1 66.5,775.2 74.5,775.3 82.5,775.4 90.5,775.5 98.5,775.5 106.5,775.5 114.5,775.5 122.5,774.8 130.5,773.3 138.5,772.1 146.5,771.0 154.5,769.8 162.5,767.8 170.5,765.0 178.5,763.0 186.5,761.0 194.5,759.0 202.5,756.9 210.5,754.4 218.5,751.9 226.5,749.3 234.5,746.8 242.5,744.3 250.5,741.9 258.5,739.6 266.5,737.3 274.5,734.4 282.5,731.4 290.5,728.3 298.5,725.3 306.5,722.2 314.5,718.3 322.5,714.3 330.5,710.3 338.5,706.0 346.5,701.5 354.5,697.0 362.5,692.4 370.5,687.9 378.5,682.8 386.5,676.5 394.5,670.4 402.5,664.6 410.5,657.8 418.5,652.5 426.5,647.5 434.5,642.1 442.5,636.9 450.5,632.5 458.5,628.2 466.5,624.2 474.5,619.6 482.5,615.3 490.5,611.0 498.5,607.4 506.5,603.5 514.5,599.7 522.5,595.9 530.5,591.6 538.5,587.6 546.5,583.3 554.5,579.1 562.5,575.7 570.5,573.0 578.5,570.0 586.5,567.0 594.5,564.0 602.5,561.2 610.5,558.1 618.5,555.1 626.5,551.7 634.5,548.3 642.5,544.6 650.5,541.4 658.5,538.4 666.5,535.2 674.5,532.1 682.5,529.2 690.5,526.8 698.5,524.4 706.5,522.0 714.5,519.1 722.5,516.3 730.5,514.0 738.5,511.8 746.5,509.8 754.5,507.4 762.5,505.2 770.5,503.0 778.5,500.7 786.5,498.8 794.5,497.4 802.5,496.9 810.5,497.0 818.5,495.7 826.5,494.1 834.5,491.9 842.5,489.4 850.5,486.1 858.5,482.6 866.5,478.6 874.5,474.8 882.5,470.8 890.5,466.6 898.5,462.0 906.5,457.8 914.5,453.1 922.5,448.0 930.5,443.1 938.5,437.6 946.5,432.3 954.5,426.7 962.5,419.2 970.5,410.0 978.5,401.2 986.5,395.7 994.5,391.8 1002.5,385.9 1010.5,380.2 1018.5,375.9 1026.5,370.5 1034.5,364.4 1042.5,358.9 1050.5,353.2 1058.5,348.3 1066.5,342.6 1074.5,337.4 1082.5,332.8 1090.5,327.4 1098.5,322.1 1106.5,316.2 1114.5,309.8 1122.5,304.1 1130.5,298.3 1138.5,292.3 1146.5,285.9 1154.5,279.3 1162.5,274.2 1170.5,269.5 1178.5,265.4 1186.5,260.8 1194.5,256.7 1202.5,250.9 1210.5,245.2 1218.5,240.1 1226.5,235.5 1234.5,231.7 1242.5,228.2 1250.5,225.8 1258.5,224.7 1266.5,224.8 1274.5,226.1 1282.5,226.8 1290.5,227.7 1298.5,229.3 1306.5,229.9 1314.5,231.0 1322.5,231.7 1330.5,232.2 1338.5,233.9 1346.5,236.1 1354.5,238.2 1362.5,241.3 1370.5,245.7 1378.5,249.9 1386.5,250.8 1394.5,249.6 1402.5,250.7 1410.5,251.8 1418.5,251.5" fill="none" stroke="#000000" stroke-width="1"/>
<polyline points="2.5,772.2 10.5,772.2 18.5,772.2 26.5,772.2 34.5,772.2 42.5,772.2 50.5,773.0 58.5,775.0 66.5,776.1 74.5,775.8 82.5,775.4 90.5,775.2 98.5,774.9 106.5,771.7 114.5,769.4 122.5,767.7 130.5,766.2 138.5,763.8 146.5,760.5 154.5,758.4 162.5,755.2 170.5,750.3 178.5,745.6 186.5,740.7 194.5,735.7 202.5,730.5 210.5,724.6 218.5,718.2 226.5,713.0 234.5,707.9 242.5,702.5 250.5,696.1 258.5,689.9 266.5,684.1 274.5,678.5 282.5,673.2 290.5,667.2 298.5,661.7 306.5,656.5 314.5,651.3 322.5,646.2 330.5,640.8 338.5,634.7 346.5,628.0 354.5,622.1 362.5,615.8 370.5,608.5 378.5,600.9 386.5,591.6 394.5,580.0 402.5,570.5 410.5,560.1 418.5,554.0 426.5,547.9 434.5,541.5 442.5,535.5 450.5,533.0 458.5,531.5 466.5,530.4 474.5,527.5 482.5,525.5 490.5,524.8 498.5,525.7 506.5,526.7 514.5,526.7 522.5,527.0 530.5,526.9 538.5,527.2 546.5,527.5 554.5,530.0 562.5,533.0 570.5,538.2 578.5,539.2 586.5,539.6 594.5,540.4 602.5,541.2 610.5,538.6 618.5,535.6 626.5,531.7 634.5,529.5 642.5,525.8 650.5,521.9 658.5,517.3 666.5,513.6 674.5,509.7 682.5,506.4 690.5,505.1 698.5,503.7 706.5,503.1 714.5,501.3 722.5,497.6 730.5,493.2 738.5,489.2 746.5,484.8 754.5,480.4 762.5,475.9 770.5,470.6 778.5,464.7 786.5,459.3 794.5,452.9 802.5,451.0 810.5,449.2 818.5,447.2 826.5,445.0 834.5,441.0 842.5,435.9 850.5,431.4 858.5,426.9 866.5,422.1 874.5,416.7 882.5,411.9 890.5,406.4 898.5,401.1 906.5,396.8 914.5,391.1 922.5,383.9 930.5,377.3 938.5,369.6 946.5,361.2 954.5,353.2 962.5,338.9 970.5,320.7 978.5,303.0 986.5,293.6 994.5,290.1 1002.5,282.5 1010.5,273.9 1018.5,268.9 1026.5,261.2 1034.5,253.5 1042.5,246.1 1050.5,238.4 1058.5,233.2 1066.5,225.7 1074.5,220.2 1082.5,218.3 1090.5,215.9 1098.5,214.9 1106.5,212.8 1114.5,209.1 1122.5,209.7 1130.5,213.9 1138.5,217.1 1146.5,210.3 1154.5,199.1 1162.5,196.7 1170.5,193.8 1178.5,188.6 1186.5,185.1 1194.5,183.7 1202.5,180.8 1210.5,179.3 1218.5,176.7 1226.5,177.1 1234.5,176.8 1242.5,174.7 1250.5,177.4 1258.5,183.2 1266.5,193.6 1274.5,207.5 1282.5,218.8 1290.5,230.0 1298.5,243.5 1306.5,256.8 1314.5,270.5 1322.5,277.5 1330.5,284.0 1338.5,290.8 1346.5,299.6 1354.5,307.0 1362.5,314.9 1370.5,321.9 1378.5,327.4 1386.5,332.1 1394.5,334.9 1402.5,338.5 1410.5,339.0 1418.5,336.0" fill="none" stroke="#ff8c00" stroke-width="1"/>
<rect x="3" y="11" width="1720" height="2" fill="#1e90ff"/>
<rect x="3" y="94" width="1720" height="2" fill="#1e90ff"/>
<rect x="3" y="333" width="1720" height="2" fill="#1e90ff"/>
<rect x="3" y="521" width="1720" height="2" fill="#1e90ff"/>
<rect x="3" y="782" width="1720" height="2" fill="#1e90ff"/>
<line x1="978.4" y1="14.7" x2="1642.8" y2="290" stroke="#9400d3" stroke-width="2"/>
</g>
<rect x="930" y="54" width="736" height="68" fill="#afeeee"/>
<g clip-path="url(#cx)">
<line x1="130.5" y1="2" x2="130.5" y2="793" stroke="#501111" stroke-width="1" stroke-dasharray="3,3"/>
<line x1="306.5" y1="2" x2="306.5" y2="793" stroke="#501111" stroke-width="1" stroke-dasharray="3,3"/>
<line x1="490.5" y1="2" x2="490.5" y2="793" stroke="#501111" stroke-width="1" stroke-dasharray="3,3"/>
<line x1="650.5" y1="2" x2="650.5" y2="793" stroke="#501111" stroke-width="1" stroke-dasharray="3,3"/>
<line x1="826.5" y1="2" x2="826.5" y2="793" stroke="#501111" stroke-width="1" stroke-dasharray="3,3"/>
<line x1="994.5" y1="2" x2="994.5" y2="793" stroke="#501111" stroke-width="1" stroke-dasharray="3,3"/>
<line x1="1154.5" y1="2" x2="1154.5" y2="793" stroke="#501111" stroke-width="1" stroke-dasharray="3,3"/>
<line x1="1330.5" y1="2" x2="1330.5" y2="793" stroke="#501111" stroke-width="1" stroke-dasharray="3,3"/>
<line x1="1530.5" y1="2" x2="1530.5" y2="793" stroke="#501111" stroke-width="1" stroke-dasharray="3,3"/>
<rect x="3" y="274" width="1720" height="1" fill="#279988"/>
<rect x="2" y="757" width="1" height="3" fill="#501111"/>
<rect x="0" y="758" width="5" height="2" fill="#501111"/>
<rect x="10" y="755" width="1" height="23" fill="#501111"/>
<rect x="8" y="758" width="5" height="18" fill="#501111"/>
<rect x="9" y="759" width="3" height="16" fill="#af1111"/>
<rect x="18" y="771" width="1" height="10" fill="#501111"/>
<rect x="16" y="775" width="5" height="2" fill="#501111"/>
<rect x="26" y="767" width="1" height="9" fill="#501111"/>
<rect x="24" y="773" width="5" height="3" fill="#501111"/>
<rect x="25" y="774" width="3" height="1" fill="#5011ee"/>
<rect x="34" y="766" width="1" height="16" fill="#501111"/>
<rect x="32" y="773" width="5" height="7" fill="#501111"/>
<rect x="33" y="774" width="3" height="5" fill="#af1111"/>
<rect x="42" y="774" width="1" height="7" fill="#501111"/>
<rect x="40" y="779" width="5" height="2" fill="#501111"/>
<rect x="50" y="771" width="1" height="11" fill="#501111"/>
<rect x="48" y="780" width="5" height="1" fill="#501111"/>
<rect x="58" y="775" width="1" height="12" fill="#501111"/>
<rect x="56" y="780" width="5" height="7" fill="#501111"/>
<rect x="57" y="781" width="3" height="5" fill="#af1111"/>
<rect x="66" y="775" width="1" height="13" fill="#501111"/>
<rect x="64" y="775" width="5" height="12" fill="#501111"/>
<rect x="65" y="776" width="3" height="10" fill="#5011ee"/>
<rect x="74" y="773" width="1" height="9" fill="#501111"/>
<rect x="72" y="776" width="5" height="2" fill="#501111"/>
<rect x="82" y="764" width="1" height="20" fill="#501111"/>
<rect x="80" y="767" width="5" height="12" fill="#501111"/>
<rect x="81" y="768" width="3" height="10" fill="#5011ee"/>
<rect x="90" y="765" width="1" height="7" fill="#501111"/>
<rect x="88" y="767" width="5" height="3" fill="#501111"/>
<rect x="89" y="768" width="3" height="1" fill="#af1111"/>
<rect x="98" y="759" width="1" height="15" fill="#501111"/>
<rect x="96" y="759" width="5" height="11" fill="#501111"/>
<rect x="97" y="760" width="3" height="9" fill="#5011ee"/>
<rect x="106" y="757" width="1" height="10" fill="#501111"/>
<rect x="104" y="758" width="5" height="3" fill="#501111"/>
<rect x="105" y="759" width="3" height="1" fill="#5011ee"/>
<rect x="114" y="749" width="1" height="14" fill="#501111"/>
<rect x="112" y="752" width="5" height="8" fill="#501111"/>
<rect x="113" y="753" width="3" height="6" fill="#5011ee"/>
<rect x="122" y="739" width="1" height="18" fill="#501111"/>
<rect x="120" y="741" width="5" height="11" fill="#501111"/>
<rect x="121" y="742" width="3" height="9" fill="#5011ee"/>
<rect x="130" y="728" width="1" height="20" fill="#501111"/>
<rect x="128" y="731" width="5" height="11" fill="#501111"/>
<rect x="129" y="732" width="3" height="9" fill="#5011ee"/>
<rect x="138" y="710" width="1" height="24" fill="#501111"/>
<rect x="136" y="712" width="5" height="20" fill="#501111"/>
<rect x="137" y="713" width="3" height="18" fill="#5011ee"/>
<rect x="146" y="697" width="1" height="18" fill="#501111"/>
<rect x="144" y="703" width="5" height="11" fill="#501111"/>
<rect x="145" y="704" width="3" height="9" fill="#5011ee"/>
<rect x="154" y="702" width="1" height="19" fill="#501111"/>
<rect x="152" y="703" width="5" height="6" fill="#501111"/>
<rect x="153" y="704" width="3" height="4" fill="#af1111"/>
<rect x="162" y="689" width="1" height="22" fill="#501111"/>
<rect x="160" y="694" width="5" height="15" fill="#501111"/>
<rect x="161" y="695" width="3" height="13" fill="#5011ee"/>
<rect x="170" y="674" width="1" height="27" fill="#501111"/>
<rect x="168" y="677" width="5" height="20" fill="#501111"/>
<rect x="169" y="678" width="3" height="18" fill="#5011ee"/>
<rect x="178" y="664" width="1" height="18" fill="#501111"/>
<rect x="176" y="677" width="5" height="5" fill="#501111"/>
<rect x="177" y="678" width="3" height="3" fill="#af1111"/>
<rect x="186" y="670" width="1" height="17" fill="#501111"/>
<rect x="184" y="676" width="5" height="11" fill="#501111"/>
<rect x="185" y="677" width="3" height="9" fill="#5011ee"/>
<rect x="194" y="673" width="1" height="14" fill="#501111"/>
<rect x="192" y="675" width="5" height="4" fill="#501111"/>
<rect x="193" y="676" width="3" height="2" fill="#af1111"/>
<rect x="202" y="670" width="1" height="10" fill="#501111"/>
<rect x="200" y="675" width="5" height="4" fill="#501111"/>
<rect x="201" y="676" width="3" height="2" fill="#5011ee"/>
<rect x="210" y="661" width="1" height="20" fill="#501111"/>
<rect x="208" y="663" width="5" height="13" fill="#501111"/>
<rect x="209" y="664" width="3" height="11" fill="#5011ee"/>
<rect x="218" y="655" width="1" height="10" fill="#501111"/>
<rect x="216" y="659" width="5" height="4" fill="#501111"/>
<rect x="217" y="660" width="3" height="2" fill="#5011ee"/>
<rect x="226" y="653" width="1" height="22" fill="#501111"/>
<rect x="224" y="659" width="5" height="11" fill="#501111"/>
<rect x="225" y="660" width="3" height="9" fill="#af1111"/>
<rect x="234" y="665" width="1" height="16" fill="#501111"/>
<rect x="232" y="670" width="5" height="6" fill="#501111"/>
<rect x="233" y="671" width="3" height="4" fill="#af1111"/>
<rect x="242" y="661" width="1" height="19" fill="#501111"/>
<rect x="240" y="661" width="5" height="15" fill="#501111"/>
<rect x="241" y="662" width="3" height="13" fill="#5011ee"/>
<rect x="250" y="639" width="1" height="22" fill="#501111"/>
<rect x="248" y="640" width="5" height="21" fill="#501111"/>
<rect x="249" y="641" width="3" height="19" fill="#5011ee"/>
<rect x="258" y="625" width="1" height="19" fill="#501111"/>
<rect x="256" y="634" width="5" height="7" fill="#501111"/>
<rect x="257" y="635" width="3" height="5" fill="#5011ee"/>
<rect x="266" y="629" width="1" height="22" fill="#501111"/>
<rect x="264" y="634" width="5" height="11" fill="#501111"/>
<rect x="265" y="635" width="3" height="9" fill="#af1111"/>
<rect x="274" y="635" width="1" height="14" fill="#501111"/>
<rect x="272" y="639" width="5" height="6" fill="#501111"/>
<rect x="273" y="640" width="3" height="4" fill="#5011ee"/>
<rect x="282" y="627" width="1" height="18" fill="#501111"/>
<rect x="280" y="635" width="5" height="5" fill="#501111"/>
<rect x="281" y="636" width="3" height="3" fill="#5011ee"/>
<rect x="290" y="610" width="1" height="28" fill="#501111"/>
<rect x="288" y="611" width="5" height="27" fill="#501111"/>
<rect x="289" y="612" width="3" height="25" fill="#5011ee"/>
<rect x="298" y="598" width="1" height="27" fill="#501111"/>
<rect x="296" y="602" width="5" height="10" fill="#501111"/>
<rect x="297" y="603" width="3" height="8" fill="#5011ee"/>
<rect x="306" y="590" width="1" height="13" fill="#501111"/>
<rect x="304" y="600" width="5" height="3" fill="#501111"/>
<rect x="305" y="601" width="3" height="1" fill="#5011ee"/>
<rect x="314" y="589" width="1" height="27" fill="#501111"/>
<rect x="312" y="599" width="5" height="5" fill="#501111"/>
<rect x="313" y="600" width="3" height="3" fill="#af1111"/>
<rect x="322" y="591" width="1" height="19" fill="#501111"/>
<rect x="320" y="593" width="5" height="11" fill="#501111"/>
<rect x="321" y="594" width="3" height="9" fill="#5011ee"/>
<rect x="330" y="564" width="1" height="29" fill="#501111"/>
<rect x="328" y="568" width="5" height="25" fill="#501111"/>
<rect x="329" y="569" width="3" height="23" fill="#5011ee"/>
<rect x="338" y="557" width="1" height="18" fill="#501111"/>
<rect x="336" y="559" width="5" height="10" fill="#501111"/>
<rect x="337" y="560" width="3" height="8" fill="#5011ee"/>
<rect x="346" y="534" width="1" height="27" fill="#501111"/>
<rect x="344" y="541" width="5" height="20" fill="#501111"/>
<rect x="345" y="542" width="3" height="18" fill="#5011ee"/>
<rect x="354" y="535" width="1" height="39" fill="#501111"/>
<rect x="352" y="540" width="5" height="23" fill="#501111"/>
<rect x="353" y="541" width="3" height="21" fill="#af1111"/>
<rect x="362" y="547" width="1" height="26" fill="#501111"/>
<rect x="360" y="548" width="5" height="16" fill="#501111"/>
<rect x="361" y="549" width="3" height="14" fill="#5011ee"/>
<rect x="370" y="515" width="1" height="42" fill="#501111"/>
<rect x="368" y="517" width="5" height="37" fill="#501111"/>
<rect x="369" y="518" width="3" height="35" fill="#5011ee"/>
<rect x="378" y="494" width="1" height="31" fill="#501111"/>
<rect x="376" y="506" width="5" height="12" fill="#501111"/>
<rect x="377" y="507" width="3" height="10" fill="#5011ee"/>
<rect x="386" y="481" width="1" height="27" fill="#501111"/>
<rect x="384" y="484" width="5" height="23" fill="#501111"/>
<rect x="385" y="485" width="3" height="21" fill="#5011ee"/>
<rect x="394" y="443" width="1" height="45" fill="#501111"/>
<rect x="392" y="444" width="5" height="41" fill="#501111"/>
<rect x="393" y="445" width="3" height="39" fill="#5011ee"/>
<rect x="402" y="426" width="1" height="66" fill="#501111"/>
<rect x="400" y="442" width="5" height="28" fill="#501111"/>
<rect x="401" y="443" width="3" height="26" fill="#af1111"/>
<rect x="410" y="425" width="1" height="56" fill="#501111"/>
<rect x="408" y="434" width="5" height="36" fill="#501111"/>
<rect x="409" y="435" width="3" height="34" fill="#5011ee"/>
<rect x="418" y="427" width="1" height="101" fill="#501111"/>
<rect x="416" y="435" width="5" height="78" fill="#501111"/>
<rect x="417" y="436" width="3" height="76" fill="#af1111"/>
<rect x="426" y="500" width="1" height="54" fill="#501111"/>
<rect x="424" y="512" width="5" height="9" fill="#501111"/>
<rect x="425" y="513" width="3" height="7" fill="#af1111"/>
<rect x="434" y="502" width="1" height="31" fill="#501111"/>
<rect x="432" y="512" width="5" height="12" fill="#501111"/>
<rect x="433" y="513" width="3" height="10" fill="#5011ee"/>
<rect x="442" y="505" width="1" height="35" fill="#501111"/>
<rect x="440" y="511" width="5" height="6" fill="#501111"/>
<rect x="441" y="512" width="3" height="4" fill="#af1111"/>
<rect x="450" y="523" width="1" height="42" fill="#501111"/>
<rect x="448" y="527" width="5" height="35" fill="#501111"/>
<rect x="449" y="528" width="3" height="33" fill="#af1111"/>
<rect x="458" y="548" width="1" height="46" fill="#501111"/>
<rect x="456" y="558" width="5" height="14" fill="#501111"/>
<rect x="457" y="559" width="3" height="12" fill="#af1111"/>
<rect x="466" y="544" width="1" height="35" fill="#501111"/>
<rect x="464" y="576" width="5" height="2" fill="#501111"/>
<rect x="474" y="545" width="1" height="38" fill="#501111"/>
<rect x="472" y="546" width="5" height="29" fill="#501111"/>
<rect x="473" y="547" width="3" height="27" fill="#5011ee"/>
<rect x="482" y="539" width="1" height="26" fill="#501111"/>
<rect x="480" y="548" width="5" height="6" fill="#501111"/>
<rect x="481" y="549" width="3" height="4" fill="#af1111"/>
<rect x="490" y="542" width="1" height="26" fill="#501111"/>
<rect x="488" y="554" width="5" height="5" fill="#501111"/>
<rect x="489" y="555" width="3" height="3" fill="#5011ee"/>
<rect x="498" y="552" width="1" height="26" fill="#501111"/>
<rect x="496" y="554" width="5" height="24" fill="#501111"/>
<rect x="497" y="555" width="3" height="22" fill="#af1111"/>
<rect x="506" y="558" width="1" height="20" fill="#501111"/>
<rect x="504" y="561" width="5" height="17" fill="#501111"/>
<rect x="505" y="562" width="3" height="15" fill="#5011ee"/>
<rect x="514" y="548" width="1" height="19" fill="#501111"/>
<rect x="512" y="562" width="5" height="3" fill="#501111"/>
<rect x="513" y="563" width="3" height="1" fill="#5011ee"/>
<rect x="522" y="545" width="1" height="21" fill="#501111"/>
<rect x="520" y="554" width="5" height="12" fill="#501111"/>
<rect x="521" y="555" width="3" height="10" fill="#5011ee"/>
<rect x="530" y="515" width="1" height="42" fill="#501111"/>
<rect x="528" y="515" width="5" height="41" fill="#501111"/>
<rect x="529" y="516" width="3" height="39" fill="#5011ee"/>
<rect x="538" y="504" width="1" height="17" fill="#501111"/>
<rect x="536" y="512" width="5" height="7" fill="#501111"/>
<rect x="537" y="513" width="3" height="5" fill="#5011ee"/>
<rect x="546" y="483" width="1" height="38" fill="#501111"/>
<rect x="544" y="489" width="5" height="23" fill="#501111"/>
<rect x="545" y="490" width="3" height="21" fill="#5011ee"/>
<rect x="554" y="471" width="1" height="35" fill="#501111"/>
<rect x="552" y="490" width="5" height="7" fill="#501111"/>
<rect x="553" y="491" width="3" height="5" fill="#af1111"/>
<rect x="562" y="483" width="1" height="61" fill="#501111"/>
<rect x="560" y="496" width="5" height="32" fill="#501111"/>
<rect x="561" y="497" width="3" height="30" fill="#af1111"/>
<rect x="570" y="518" width="1" height="35" fill="#501111"/>
<rect x="568" y="526" width="5" height="14" fill="#501111"/>
<rect x="569" y="527" width="3" height="12" fill="#af1111"/>
<rect x="578" y="526" width="1" height="30" fill="#501111"/>
<rect x="576" y="532" width="5" height="10" fill="#501111"/>
<rect x="577" y="533" width="3" height="8" fill="#5011ee"/>
<rect x="586" y="509" width="1" height="28" fill="#501111"/>
<rect x="584" y="528" width="5" height="6" fill="#501111"/>
<rect x="585" y="529" width="3" height="4" fill="#5011ee"/>
<rect x="594" y="517" width="1" height="25" fill="#501111"/>
<rect x="592" y="528" width="5" height="2" fill="#501111"/>
<rect x="602" y="520" width="1" height="28" fill="#501111"/>
<rect x="600" y="529" width="5" height="4" fill="#501111"/>
<rect x="601" y="530" width="3" height="2" fill="#af1111"/>
<rect x="610" y="507" width="1" height="35" fill="#501111"/>
<rect x="608" y="509" width="5" height="25" fill="#501111"/>
<rect x="609" y="510" width="3" height="23" fill="#5011ee"/>
<rect x="618" y="500" width="1" height="18" fill="#501111"/>
<rect x="616" y="510" width="5" height="2" fill="#501111"/>
<rect x="626" y="496" width="1" height="15" fill="#501111"/>
<rect x="624" y="499" width="5" height="12" fill="#501111"/>
<rect x="625" y="500" width="3" height="10" fill="#5011ee"/>
<rect x="634" y="497" width="1" height="10" fill="#501111"/>
<rect x="632" y="501" width="5" height="2" fill="#501111"/>
<rect x="642" y="478" width="1" height="28" fill="#501111"/>
<rect x="640" y="480" width="5" height="23" fill="#501111"/>
<rect x="641" y="481" width="3" height="21" fill="#5011ee"/>
<rect x="650" y="464" width="1" height="21" fill="#501111"/>
<rect x="648" y="476" width="5" height="5" fill="#501111"/>
<rect x="649" y="477" width="3" height="3" fill="#5011ee"/>
<rect x="658" y="474" width="1" height="26" fill="#501111"/>
<rect x="656" y="477" width="5" height="9" fill="#501111"/>
<rect x="657" y="478" width="3" height="7" fill="#af1111"/>
<rect x="666" y="473" width="1" height="16" fill="#501111"/>
<rect x="664" y="486" width="5" height="2" fill="#501111"/>
<rect x="674" y="480" width="1" height="16" fill="#501111"/>
<rect x="672" y="484" width="5" height="3" fill="#501111"/>
<rect x="673" y="485" width="3" height="1" fill="#5011ee"/>
<rect x="682" y="467" width="1" height="23" fill="#501111"/>
<rect x="680" y="484" width="5" height="5" fill="#501111"/>
<rect x="681" y="485" width="3" height="3" fill="#af1111"/>
<rect x="690" y="480" width="1" height="16" fill="#501111"/>
<rect x="688" y="489" width="5" height="2" fill="#501111"/>
<rect x="698" y="479" width="1" height="18" fill="#501111"/>
<rect x="696" y="484" width="5" height="8" fill="#501111"/>
<rect x="697" y="485" width="3" height="6" fill="#5011ee"/>
<rect x="706" y="474" width="1" height="20" fill="#501111"/>
<rect x="704" y="477" width="5" height="8" fill="#501111"/>
<rect x="705" y="478" width="3" height="6" fill="#5011ee"/>
<rect x="714" y="458" width="1" height="28" fill="#501111"/>
<rect x="712" y="460" width="5" height="20" fill="#501111"/>
<rect x="713" y="461" width="3" height="18" fill="#5011ee"/>
<rect x="722" y="435" width="1" height="33" fill="#501111"/>
<rect x="720" y="453" width="5" height="8" fill="#501111"/>
<rect x="721" y="454" width="3" height="6" fill="#5011ee"/>
<rect x="730" y="436" width="1" height="23" fill="#501111"/>
<rect x="728" y="451" width="5" height="3" fill="#501111"/>
<rect x="729" y="452" width="3" height="1" fill="#5011ee"/>
<rect x="738" y="441" width="1" height="23" fill="#501111"/>
<rect x="736" y="451" width="5" height="2" fill="#501111"/>
<rect x="746" y="436" width="1" height="17" fill="#501111"/>
<rect x="744" y="440" width="5" height="13" fill="#501111"/>
<rect x="745" y="441" width="3" height="11" fill="#5011ee"/>
<rect x="754" y="428" width="1" height="23" fill="#501111"/>
<rect x="752" y="441" width="5" height="2" fill="#501111"/>
<rect x="762" y="434" width="1" height="17" fill="#501111"/>
<rect x="760" y="440" width="5" height="3" fill="#501111"/>
<rect x="761" y="441" width="3" height="1" fill="#5011ee"/>
<rect x="770" y="403" width="1" height="40" fill="#501111"/>
<rect x="768" y="405" width="5" height="36" fill="#501111"/>
<rect x="769" y="406" width="3" height="34" fill="#5011ee"/>
<rect x="778" y="385" width="1" height="25" fill="#501111"/>
<rect x="776" y="391" width="5" height="14" fill="#501111"/>
<rect x="777" y="392" width="3" height="12" fill="#5011ee"/>
<rect x="786" y="377" width="1" height="27" fill="#501111"/>
<rect x="784" y="391" width="5" height="2" fill="#501111"/>
<rect x="794" y="368" width="1" height="32" fill="#501111"/>
<rect x="792" y="374" width="5" height="24" fill="#501111"/>
<rect x="793" y="375" width="3" height="22" fill="#5011ee"/>
<rect x="802" y="368" width="1" height="85" fill="#501111"/>
<rect x="800" y="377" width="5" height="66" fill="#501111"/>
<rect x="801" y="378" width="3" height="64" fill="#af1111"/>
<rect x="810" y="418" width="1" height="28" fill="#501111"/>
<rect x="808" y="440" width="5" height="3" fill="#501111"/>
<rect x="809" y="441" width="3" height="1" fill="#5011ee"/>
<rect x="818" y="428" width="1" height="35" fill="#501111"/>
<rect x="816" y="441" width="5" height="5" fill="#501111"/>
<rect x="817" y="442" width="3" height="3" fill="#af1111"/>
<rect x="826" y="416" width="1" height="29" fill="#501111"/>
<rect x="824" y="442" width="5" height="2" fill="#501111"/>
<rect x="834" y="400" width="1" height="48" fill="#501111"/>
<rect x="832" y="403" width="5" height="45" fill="#501111"/>
<rect x="833" y="404" width="3" height="43" fill="#5011ee"/>
<rect x="842" y="386" width="1" height="25" fill="#501111"/>
<rect x="840" y="387" width="5" height="19" fill="#501111"/>
<rect x="841" y="388" width="3" height="17" fill="#5011ee"/>
<rect x="850" y="385" width="1" height="27" fill="#501111"/>
<rect x="848" y="387" width="5" height="13" fill="#501111"/>
<rect x="849" y="388" width="3" height="11" fill="#af1111"/>
<rect x="858" y="392" width="1" height="24" fill="#501111"/>
<rect x="856" y="393" width="5" height="8" fill="#501111"/>
<rect x="857" y="394" width="3" height="6" fill="#5011ee"/>
<rect x="866" y="379" width="1" height="23" fill="#501111"/>
<rect x="864" y="382" width="5" height="12" fill="#501111"/>
<rect x="865" y="383" width="3" height="10" fill="#5011ee"/>
<rect x="874" y="341" width="1" height="42" fill="#501111"/>
<rect x="872" y="352" width="5" height="31" fill="#501111"/>
<rect x="873" y="353" width="3" height="29" fill="#5011ee"/>
<rect x="882" y="340" width="1" height="23" fill="#501111"/>
<rect x="880" y="352" width="5" height="5" fill="#501111"/>
<rect x="881" y="353" width="3" height="3" fill="#af1111"/>
<rect x="890" y="337" width="1" height="20" fill="#501111"/>
<rect x="888" y="342" width="5" height="15" fill="#501111"/>
<rect x="889" y="343" width="3" height="13" fill="#5011ee"/>
<rect x="898" y="340" width="1" height="19" fill="#501111"/>
<rect x="896" y="342" width="5" height="5" fill="#501111"/>
<rect x="897" y="343" width="3" height="3" fill="#af1111"/>
<rect x="906" y="344" width="1" height="30" fill="#501111"/>
<rect x="904" y="347" width="5" height="7" fill="#501111"/>
<rect x="905" y="348" width="3" height="5" fill="#af1111"/>
<rect x="914" y="321" width="1" height="35" fill="#501111"/>
<rect x="912" y="328" width="5" height="27" fill="#501111"/>
<rect x="913" y="329" width="3" height="25" fill="#5011ee"/>
<rect x="922" y="295" width="1" height="37" fill="#501111"/>
<rect x="920" y="296" width="5" height="32" fill="#501111"/>
<rect x="921" y="297" width="3" height="30" fill="#5011ee"/>
<rect x="930" y="254" width="1" height="45" fill="#501111"/>
<rect x="928" y="273" width="5" height="26" fill="#501111"/>
<rect x="929" y="274" width="3" height="24" fill="#5011ee"/>
<rect x="938" y="236" width="1" height="58" fill="#501111"/>
<rect x="936" y="238" width="5" height="38" fill="#501111"/>
<rect x="937" y="239" width="3" height="36" fill="#5011ee"/>
<rect x="946" y="220" width="1" height="31" fill="#501111"/>
<rect x="944" y="223" width="5" height="15" fill="#501111"/>
<rect x="945" y="224" width="3" height="13" fill="#5011ee"/>
<rect x="954" y="179" width="1" height="50" fill="#501111"/>
<rect x="952" y="213" width="5" height="16" fill="#501111"/>
<rect x="953" y="214" width="3" height="14" fill="#5011ee"/>
<rect x="962" y="152" width="1" height="61" fill="#501111"/>
<rect x="960" y="156" width="5" height="57" fill="#501111"/>
<rect x="961" y="157" width="3" height="55" fill="#5011ee"/>
<rect x="970" y="75" width="1" height="89" fill="#501111"/>
<rect x="968" y="76" width="5" height="83" fill="#501111"/>
<rect x="969" y="77" width="3" height="81" fill="#5011ee"/>
<rect x="978" y="15" width="1" height="170" fill="#501111"/>
<rect x="976" y="75" width="5" height="17" fill="#501111"/>
<rect x="977" y="76" width="3" height="15" fill="#af1111"/>
<rect x="986" y="64" width="1" height="260" fill="#501111"/>
<rect x="984" y="96" width="5" height="161" fill="#501111"/>
<rect x="985" y="97" width="3" height="159" fill="#af1111"/>
<rect x="994" y="254" width="1" height="164" fill="#501111"/>
<rect x="992" y="291" width="5" height="42" fill="#501111"/>
<rect x="993" y="292" width="3" height="40" fill="#af1111"/>
<rect x="1002" y="218" width="1" height="113" fill="#501111"/>
<rect x="1000" y="235" width="5" height="96" fill="#501111"/>
<rect x="1001" y="236" width="3" height="94" fill="#5011ee"/>
<rect x="1010" y="185" width="1" height="83" fill="#501111"/>
<rect x="1008" y="228" width="5" height="10" fill="#501111"/>
<rect x="1009" y="229" width="3" height="8" fill="#5011ee"/>
<rect x="1018" y="208" width="1" height="90" fill="#501111"/>
<rect x="1016" y="231" width="5" height="63" fill="#501111"/>
<rect x="1017" y="232" width="3" height="61" fill="#af1111"/>
<rect x="1026" y="227" width="1" height="106" fill="#501111"/>
<rect x="1024" y="228" width="5" height="64" fill="#501111"/>
<rect x="1025" y="229" width="3" height="62" fill="#5011ee"/>
<rect x="1034" y="187" width="1" height="48" fill="#501111"/>
<rect x="1032" y="197" width="5" height="38" fill="#501111"/>
<rect x="1033" y="198" width="3" height="36" fill="#5011ee"/>
<rect x="1042" y="190" width="1" height="31" fill="#501111"/>
<rect x="1040" y="196" width="5" height="13" fill="#501111"/>
<rect x="1041" y="197" width="3" height="11" fill="#af1111"/>
<rect x="1050" y="176" width="1" height="34" fill="#501111"/>
<rect x="1048" y="188" width="5" height="22" fill="#501111"/>
<rect x="1049" y="189" width="3" height="20" fill="#5011ee"/>
<rect x="1058" y="183" width="1" height="75" fill="#501111"/>
<rect x="1056" y="191" width="5" height="53" fill="#501111"/>
<rect x="1057" y="192" width="3" height="51" fill="#af1111"/>
<rect x="1066" y="201" width="1" height="55" fill="#501111"/>
<rect x="1064" y="202" width="5" height="41" fill="#501111"/>
<rect x="1065" y="203" width="3" height="39" fill="#5011ee"/>
<rect x="1074" y="201" width="1" height="27" fill="#501111"/>
<rect x="1072" y="207" width="5" height="13" fill="#501111"/>
<rect x="1073" y="208" width="3" height="11" fill="#af1111"/>
<rect x="1082" y="216" width="1" height="54" fill="#501111"/>
<rect x="1080" y="218" width="5" height="41" fill="#501111"/>
<rect x="1081" y="219" width="3" height="39" fill="#af1111"/>
<rect x="1090" y="213" width="1" height="53" fill="#501111"/>
<rect x="1088" y="224" width="5" height="37" fill="#501111"/>
<rect x="1089" y="225" width="3" height="35" fill="#5011ee"/>
<rect x="1098" y="209" width="1" height="24" fill="#501111"/>
<rect x="1096" y="218" width="5" height="8" fill="#501111"/>
<rect x="1097" y="219" width="3" height="6" fill="#5011ee"/>
<rect x="1106" y="180" width="1" height="44" fill="#501111"/>
<rect x="1104" y="180" width="5" height="40" fill="#501111"/>
<rect x="1105" y="181" width="3" height="38" fill="#5011ee"/>
<rect x="1114" y="136" width="1" height="49" fill="#501111"/>
<rect x="1112" y="139" width="5" height="43" fill="#501111"/>
<rect x="1113" y="140" width="3" height="41" fill="#5011ee"/>
<rect x="1122" y="132" width="1" height="54" fill="#501111"/>
<rect x="1120" y="139" width="5" height="30" fill="#501111"/>
<rect x="1121" y="140" width="3" height="28" fill="#af1111"/>
<rect x="1130" y="143" width="1" height="33" fill="#501111"/>
<rect x="1128" y="161" width="5" height="9" fill="#501111"/>
<rect x="1129" y="162" width="3" height="7" fill="#5011ee"/>
<rect x="1138" y="147" width="1" height="26" fill="#501111"/>
<rect x="1136" y="154" width="5" height="10" fill="#501111"/>
<rect x="1137" y="155" width="3" height="8" fill="#5011ee"/>
<rect x="1146" y="121" width="1" height="40" fill="#501111"/>
<rect x="1144" y="122" width="5" height="34" fill="#501111"/>
<rect x="1145" y="123" width="3" height="32" fill="#5011ee"/>
<rect x="1154" y="75" width="1" height="55" fill="#501111"/>
<rect x="1152" y="107" width="5" height="23" fill="#501111"/>
<rect x="1153" y="108" width="3" height="21" fill="#5011ee"/>
<rect x="1162" y="88" width="1" height="131" fill="#501111"/>
<rect x="1160" y="108" width="5" height="80" fill="#501111"/>
<rect x="1161" y="109" width="3" height="78" fill="#af1111"/>
<rect x="1170" y="147" width="1" height="41" fill="#501111"/>
<rect x="1168" y="169" width="5" height="14" fill="#501111"/>
<rect x="1169" y="170" width="3" height="12" fill="#5011ee"/>
<rect x="1178" y="151" width="1" height="49" fill="#501111"/>
<rect x="1176" y="168" width="5" height="22" fill="#501111"/>
<rect x="1177" y="169" width="3" height="20" fill="#af1111"/>
<rect x="1186" y="157" width="1" height="38" fill="#501111"/>
<rect x="1184" y="158" width="5" height="35" fill="#501111"/>
<rect x="1185" y="159" width="3" height="33" fill="#5011ee"/>
<rect x="1194" y="166" width="1" height="46" fill="#501111"/>
<rect x="1192" y="169" width="5" height="5" fill="#501111"/>
<rect x="1193" y="170" width="3" height="3" fill="#5011ee"/>
<rect x="1202" y="136" width="1" height="39" fill="#501111"/>
<rect x="1200" y="152" width="5" height="15" fill="#501111"/>
<rect x="1201" y="153" width="3" height="13" fill="#5011ee"/>
<rect x="1210" y="141" width="1" height="26" fill="#501111"/>
<rect x="1208" y="155" width="5" height="4" fill="#501111"/>
<rect x="1209" y="156" width="3" height="2" fill="#af1111"/>
<rect x="1218" y="151" width="1" height="48" fill="#501111"/>
<rect x="1216" y="159" width="5" height="32" fill="#501111"/>
<rect x="1217" y="160" width="3" height="30" fill="#af1111"/>
<rect x="1226" y="173" width="1" height="41" fill="#501111"/>
<rect x="1224" y="189" width="5" height="22" fill="#501111"/>
<rect x="1225" y="190" width="3" height="20" fill="#af1111"/>
<rect x="1234" y="203" width="1" height="25" fill="#501111"/>
<rect x="1232" y="209" width="5" height="6" fill="#501111"/>
<rect x="1233" y="210" width="3" height="4" fill="#af1111"/>
<rect x="1242" y="201" width="1" height="24" fill="#501111"/>
<rect x="1240" y="214" width="5" height="2" fill="#501111"/>
<rect x="1250" y="211" width="1" height="71" fill="#501111"/>
<rect x="1248" y="215" width="5" height="64" fill="#501111"/>
<rect x="1249" y="216" width="3" height="62" fill="#af1111"/>
<rect x="1258" y="261" width="1" height="123" fill="#501111"/>
<rect x="1256" y="275" width="5" height="60" fill="#501111"/>
<rect x="1257" y="276" width="3" height="58" fill="#af1111"/>
<rect x="1266" y="306" width="1" height="87" fill="#501111"/>
<rect x="1264" y="333" width="5" height="57" fill="#501111"/>
<rect x="1265" y="334" width="3" height="55" fill="#af1111"/>
<rect x="1274" y="373" width="1" height="148" fill="#501111"/>
<rect x="1272" y="392" width="5" height="25" fill="#501111"/>
<rect x="1273" y="393" width="3" height="23" fill="#af1111"/>
<rect x="1282" y="391" width="1" height="60" fill="#501111"/>
<rect x="1280" y="395" width="5" height="19" fill="#501111"/>
<rect x="1281" y="396" width="3" height="17" fill="#5011ee"/>
<rect x="1290" y="351" width="1" height="49" fill="#501111"/>
<rect x="1288" y="384" width="5" height="12" fill="#501111"/>
<rect x="1289" y="385" width="3" height="10" fill="#5011ee"/>
<rect x="1298" y="370" width="1" height="66" fill="#501111"/>
<rect x="1296" y="384" width="5" height="42" fill="#501111"/>
<rect x="1297" y="385" width="3" height="40" fill="#af1111"/>
<rect x="1306" y="367" width="1" height="64" fill="#501111"/>
<rect x="1304" y="387" width="5" height="40" fill="#501111"/>
<rect x="1305" y="388" width="3" height="38" fill="#5011ee"/>
<rect x="1314" y="358" width="1" height="56" fill="#501111"/>
<rect x="1312" y="381" width="5" height="5" fill="#501111"/>
<rect x="1313" y="382" width="3" height="3" fill="#5011ee"/>
<rect x="1322" y="323" width="1" height="68" fill="#501111"/>
<rect x="1320" y="328" width="5" height="54" fill="#501111"/>
<rect x="1321" y="329" width="3" height="52" fill="#5011ee"/>
<rect x="1330" y="285" width="1" height="45" fill="#501111"/>
<rect x="1328" y="298" width="5" height="29" fill="#501111"/>
<rect x="1329" y="299" width="3" height="27" fill="#5011ee"/>
<rect x="1338" y="284" width="1" height="84" fill="#501111"/>
<rect x="1336" y="301" width="5" height="25" fill="#501111"/>
<rect x="1337" y="302" width="3" height="23" fill="#af1111"/>
<rect x="1346" y="315" width="1" height="37" fill="#501111"/>
<rect x="1344" y="326" width="5" height="10" fill="#501111"/>
<rect x="1345" y="327" width="3" height="8" fill="#af1111"/>
<rect x="1354" y="311" width="1" height="39" fill="#501111"/>
<rect x="1352" y="317" width="5" height="16" fill="#501111"/>
<rect x="1353" y="318" width="3" height="14" fill="#5011ee"/>
<rect x="1362" y="264" width="1" height="55" fill="#501111"/>
<rect x="1360" y="310" width="5" height="2" fill="#501111"/>
<rect x="1370" y="283" width="1" height="36" fill="#501111"/>
<rect x="1368" y="296" width="5" height="16" fill="#501111"/>
<rect x="1369" y="297" width="3" height="14" fill="#5011ee"/>
<rect x="1378" y="286" width="1" height="22" fill="#501111"/>
<rect x="1376" y="297" width="5" height="4" fill="#501111"/>
<rect x="1377" y="298" width="3" height="2" fill="#af1111"/>
<rect x="1386" y="301" width="1" height="37" fill="#501111"/>
<rect x="1384" y="304" width="5" height="2" fill="#501111"/>
<rect x="1394" y="267" width="1" height="37" fill="#501111"/>
<rect x="1392" y="270" width="5" height="34" fill="#501111"/>
<rect x="1393" y="271" width="3" height="32" fill="#5011ee"/>
<rect x="1402" y="260" width="1" height="30" fill="#501111"/>
<rect x="1400" y="271" width="5" height="17" fill="#501111"/>
<rect x="1401" y="272" width="3" height="15" fill="#af1111"/>
<rect x="1410" y="271" width="1" height="23" fill="#501111"/>
<rect x="1408" y="287" width="5" height="2" fill="#501111"/>
<rect x="1418" y="253" width="1" height="43" fill="#501111"/>
<rect x="1416" y="274" width="5" height="14" fill="#501111"/>
<rect x="1417" y="275" width="3" height="12" fill="#5011ee"/>
<polyline points="419.7,792.8 456.3,781.6 490.4,772.6 546.4,757.1 650.3,730.9 681.5,723.3 737.8,706.4 826.5,681.6 880.0,665.0 900.0,659.1 994.5,624.0 1100.7,587.7 1154.4,565.6 1226.9,538.2 1275.8,523.1 1330.3,509.8 1417.7,483.0" fill="none" stroke="#5011ee" stroke-width="1"/>
<polyline points="2.5,774.6 10.5,774.7 18.5,774.8 26.5,774.8 34.5,774.9 42.5,775.0 50.5,775.1 58.5,775.1 66.5,775.2 74.5,775.3 82.5,775.4 90.5,775.5 98.5,775.5 106.5,775.5 114.5,775.5 122.5,774.8 130.5,773.3 138.5,772.1 146.5,771.0 154.5,769.8 162.5,767.8 170.5,765.0 178.5,763.0 186.5,761.0 194.5,759.0 202.5,756.9 210.5,754.4 218.5,751.9 226.5,749.3 234.5,746.8 242.5,744.3 250.5,741.9 258.5,739.6 266.5,737.3 274.5,734.4 282.5,731.4 290.5,728.3 298.5,725.3 306.5,722.2 314.5,718.3 322.5,714.3 330.5,710.3 338.5,706.0 346.5,701.5 354.5,697.0 362.5,692.4 370.5,687.9 378.5,682.8 386.5,676.5 394.5,670.4 402.5,664.6 410.5,657.8 418.5,652.5 426.5,647.5 434.5,642.1 442.5,636.9 450.5,632.5 458.5,628.2 466.5,624.2 474.5,619.6 482.5,615.3 490.5,611.0 498.5,607.4 506.5,603.5 514.5,599.7 522.5,595.9 530.5,591.6 538.5,587.6 546.5,583.3 554.5,579.1 562.5,575.7 570.5,573.0 578.5,570.0 586.5,567.0 594.5,564.0 602.5,561.2 610.5,558.1 618.5,555.1 626.5,551.7 634.5,548.3 642.5,544.6 650.5,541.4 658.5,538.4 666.5,535.2 674.5,532.1 682.5,529.2 690.5,526.8 698.5,524.4 706.5,522.0 714.5,519.1 722.5,516.3 730.5,514.0 738.5,511.8 746.5,509.8 754.5,507.4 762.5,505.2 770.5,503.0 778.5,500.7 786.5,498.8 794.5,497.4 802.5,496.9 810.5,497.0 818.5,495.7 826.5,494.1 834.5,491.9 842.5,489.4 850.5,486.1 858.5,482.6 866.5,478.6 874.5,474.8 882.5,470.8 890.5,466.6 898.5,462.0 906.5,457.8 914.5,453.1 922.5,448.0 930.5,443.1 938.5,437.6 946.5,432.3 954.5,426.7 962.5,419.2 970.5,410.0 978.5,401.2 986.5,395.7 994.5,391.8 1002.5,385.9 1010.5,380.2 1018.5,375.9 1026.5,370.5 1034.5,364.4 1042.5,358.9 1050.5,353.2 1058.5,348.3 1066.5,342.6 1074.5,337.4 1082.5,332.8 1090.5,327.4 1098.5,322.1 1106.5,316.2 1114.5,309.8 1122.5,304.1 1130.5,298.3 1138.5,292.3 1146.5,285.9 1154.5,279.3 1162.5,274.2 1170.5,269.5 1178.5,265.4 1186.5,260.8 1194.5,256.7 1202.5,250.9 1210.5,245.2 1218.5,240.1 1226.5,235.5 1234.5,231.7 1242.5,228.2 1250.5,225.8 1258.5,224.7 1266.5,224.8 1274.5,226.1 1282.5,226.8 1290.5,227.7 1298.5,229.3 1306.5,229.9 1314.5,231.0 1322.5,231.7 1330.5,232.2 1338.5,233.9 1346.5,236.1 1354.5,238.2 1362.5,241.3 1370.5,245.7 1378.5,249.9 1386.5,250.8 1394.5,249.6 1402.5,250.7 1410.5,251.8 1418.5,251.5" fill="none" stroke="#501111" stroke-width="1"/>
<polyline points="2.5,772.2 10.5,772.2 18.5,772.2 26.5,772.2 34.5,772.2 42.5,772.2 50.5,773.0 58.5,775.0 66.5,776.1 74.5,775.8 82.5,775.4 90.5,775.2 98.5,774.9 106.5,771.7 114.5,769.4 122.5,767.7 130.5,766.2 138.5,763.8 146.5,760.5 154.5,758.4 162.5,755.2 170.5,750.3 178.5,745.6 186.5,740.7 194.5,735.7 202.5,730.5 210.5,724.6 218.5,718.2 226.5,713.0 234.5,707.9 242.5,702.5 250.5,696.1 258.5,689.9 266.5,684.1 274.5,678.5 282.5,673.2 290.5,667.2 298.5,661.7 306.5,656.5 314.5,651.3 322.5,646.2 330.5,640.8 338.5,634.7 346.5,628.0 354.5,622.1 362.5,615.8 370.5,608.5 378.5,600.9 386.5,591.6 394.5,580.0 402.5,570.5 410.5,560.1 418.5,554.0 426.5,547.9 434.5,541.5 442.5,535.5 450.5,533.0 458.5,531.5 466.5,530.4 474.5,527.5 482.5,525.5 490.5,524.8 498.5,525.7 506.5,526.7 514.5,526.7 522.5,527.0 530.5,526.9 538.5,527.2 546.5,527.5 554.5,530.0 562.5,533.0 570.5,538.2 578.5,539.2 586.5,539.6 594.5,540.4 602.5,541.2 610.5,538.6 618.5,535.6 626.5,531.7 634.5,529.5 642.5,525.8 650.5,521.9 658.5,517.3 666.5,513.6 674.5,509.7 682.5,506.4 690.5,505.1 698.5,503.7 706.5,503.1 714.5,501.3 722.5,497.6 730.5,493.2 738.5,489.2 746.5,484.8 754.5,480.4 762.5,475.9 770.5,470.6 778.5,464.7 786.5,459.3 794.5,452.9 802.5,451.0 810.5,449.2 818.5,447.2 826.5,445.0 834.5,441.0 842.5,435.9 850.5,431.4 858.5,426.9 866.5,422.1 874.5,416.7 882.5,411.9 890.5,406.4 898.5,401.1 906.5,396.8 914.5,391.1 922.5,383.9 930.5,377.3 938.5,369.6 946.5,361.2 954.5,353.2 962.5,338.9 970.5,320.7 978.5,303.0 986.5,293.6 994.5,290.1 1002.5,282.5 1010.5,273.9 1018.5,268.9 1026.5,261.2 1034.5,253.5 1042.5,246.1 1050.5,238.4 1058.5,233.2 1066.5,225.7 1074.5,220.2 1082.5,218.3 1090.5,215.9 1098.5,214.9 1106.5,212.8 1114.5,209.1 1122.5,209.7 1130.5,213.9 1138.5,217.1 1146.5,210.3 1154.5,199.1 1162.5,196.7 1170.5,193.8 1178.5,188.6 1186.5,185.1 1194.5,183.7 1202.5,180.8 1210.5,179.3 1218.5,176.7 1226.5,177.1 1234.5,176.8 1242.5,174.7 1250.5,177.4 1258.5,183.2 1266.5,193.6 1274.5,207.5 1282.5,218.8 1290.5,230.0 1298.5,243.5 1306.5,256.8 1314.5,270.5 1322.5,277.5 1330.5,284.0 1338.5,290.8 1346.5,299.6 1354.5,307.0 1362.5,314.9 1370.5,321.9 1378.5,327.4 1386.5,332.1 1394.5,334.9 1402.5,338.5 1410.5,339.0 1418.5,336.0" fill="none" stroke="#af9d11" stroke-width="1"/>
<rect x="3" y="11" width="1720" height="2" fill="#4e81ee"/>
<rect x="3" y="94" width="1720" height="2" fill="#4e81ee"/>
<rect x="3" y="333" width="1720" height="2" fill="#4e81ee"/>
<rect x="3" y="521" width="1720" height="2" fill="#4e81ee"/>
<rect x="3" y="782" width="1720" height="2" fill="#4e81ee"/>
<line x1="978.4" y1="14.7" x2="1642.8" y2="290" stroke="#c411c2" stroke-width="2"/>
</g>
<rect x="1724" y="25" width="4" height="1" fill="#000"/>
<text transform="translate(1729,29) scale(0.9375,1)" x="0" y="0" font-size="9.6" fill="#000" stroke="#000" stroke-width="0.3">5566.03</text>
<rect x="1724" y="57" width="4" height="1" fill="#000"/>
<text transform="translate(1729,61) scale(0.9375,1)" x="0" y="0" font-size="9.6" fill="#000" stroke="#000" stroke-width="0.3">5471.35</text>
<rect x="1724" y="89" width="4" height="1" fill="#000"/>
<text transform="translate(1729,93) scale(0.9375,1)" x="0" y="0" font-size="9.6" fill="#000" stroke="#000" stroke-width="0.3">5376.67</text>
<rect x="1724" y="121" width="4" height="1" fill="#000"/>
<text transform="translate(1729,125) scale(0.9375,1)" x="0" y="0" font-size="9.6" fill="#000" stroke="#000" stroke-width="0.3">5281.99</text>
<rect x="1724" y="153" width="4" height="1" fill="#000"/>
<text transform="translate(1729,157) scale(0.9375,1)" x="0" y="0" font-size="9.6" fill="#000" stroke="#000" stroke-width="0.3">5187.31</text>
<rect x="1724" y="185" width="4" height="1" fill="#000"/>
<text transform="translate(1729,189) scale(0.9375,1)" x="0" y="0" font-size="9.6" fill="#000" stroke="#000" stroke-width="0.3">5092.63</text>
<rect x="1724" y="217" width="4" height="1" fill="#000"/>
<text transform="translate(1729,221) scale(0.9375,1)" x="0" y="0" font-size="9.6" fill="#000" stroke="#000" stroke-width="0.3">4997.95</text>
<rect x="1724" y="249" width="4" height="1" fill="#000"/>
<text transform="translate(1729,253) scale(0.9375,1)" x="0" y="0" font-size="9.6" fill="#000" stroke="#000" stroke-width="0.3">4903.27</text>
<rect x="1724" y="281" width="4" height="1" fill="#000"/>
<text transform="translate(1729,285) scale(0.9375,1)" x="0" y="0" font-size="9.6" fill="#000" stroke="#000" stroke-width="0.3">4808.59</text>
<rect x="1724" y="313" width="4" height="1" fill="#000"/>
<text transform="translate(1729,317) scale(0.9375,1)" x="0" y="0" font-size="9.6" fill="#000" stroke="#000" stroke-width="0.3">4713.91</text>
<rect x="1724" y="345" width="4" height="1" fill="#000"/>
<text transform="translate(1729,349) scale(0.9375,1)" x="0" y="0" font-size="9.6" fill="#000" stroke="#000" stroke-width="0.3">4619.23</text>
<rect x="1724" y="377" width="4" height="1" fill="#000"/>
<text transform="translate(1729,381) scale(0.9375,1)" x="0" y="0" font-size="9.6" fill="#000" stroke="#000" stroke-width="0.3">4524.55</text>
<rect x="1724" y="409" width="4" height="1" fill="#000"/>
<text transform="translate(1729,413) scale(0.9375,1)" x="0" y="0" font-size="9.6" fill="#000" stroke="#000" stroke-width="0.3">4429.87</text>
<rect x="1724" y="441" width="4" height="1" fill="#000"/>
<text transform="translate(1729,445) scale(0.9375,1)" x="0" y="0" font-size="9.6" fill="#000" stroke="#000" stroke-width="0.3">4335.19</text>
<rect x="1724" y="473" width="4" height="1" fill="#000"/>
<text transform="translate(1729,477) scale(0.9375,1)" x="0" y="0" font-size="9.6" fill="#000" stroke="#000" stroke-width="0.3">4240.51</text>
<rect x="1724" y="505" width="4" height="1" fill="#000"/>
<text transform="translate(1729,509) scale(0.9375,1)" x="0" y="0" font-size="9.6" fill="#000" stroke="#000" stroke-width="0.3">4145.83</text>
<rect x="1724" y="537" width="4" height="1" fill="#000"/>
<text transform="translate(1729,541) scale(0.9375,1)" x="0" y="0" font-size="9.6" fill="#000" stroke="#000" stroke-width="0.3">4051.15</text>
<rect x="1724" y="569" width="4" height="1" fill="#000"/>
<text transform="translate(1729,573) scale(0.9375,1)" x="0" y="0" font-size="9.6" fill="#000" stroke="#000" stroke-width="0.3">3956.47</text>
<rect x="1724" y="601" width="4" height="1" fill="#000"/>
<text transform="translate(1729,605) scale(0.9375,1)" x="0" y="0" font-size="9.6" fill="#000" stroke="#000" stroke-width="0.3">3861.79</text>
<rect x="1724" y="633" width="4" height="1" fill="#000"/>
<text transform="translate(1729,637) scale(0.9375,1)" x="0" y="0" font-size="9.6" fill="#000" stroke="#000" stroke-width="0.3">3767.11</text>
<rect x="1724" y="665" width="4" height="1" fill="#000"/>
<text transform="translate(1729,669) scale(0.9375,1)" x="0" y="0" font-size="9.6" fill="#000" stroke="#000" stroke-width="0.3">3672.43</text>
<rect x="1724" y="697" width="4" height="1" fill="#000"/>
<text transform="translate(1729,701) scale(0.9375,1)" x="0" y="0" font-size="9.6" fill="#000" stroke="#000" stroke-width="0.3">3577.75</text>
<rect x="1724" y="729" width="4" height="1" fill="#000"/>
<text transform="translate(1729,733) scale(0.9375,1)" x="0" y="0" font-size="9.6" fill="#000" stroke="#000" stroke-width="0.3">3483.07</text>
<rect x="1724" y="761" width="4" height="1" fill="#000"/>
<text transform="translate(1729,765) scale(0.9375,1)" x="0" y="0" font-size="9.6" fill="#000" stroke="#000" stroke-width="0.3">3388.39</text>
<rect x="1726" y="7" width="39" height="11" fill="#1e90ff"/>
<text transform="translate(1729,16) scale(0.9375,1)" x="0" y="0" font-size="9.6" fill="#fff" stroke="#fff" stroke-width="0.3">5604.25</text>
<rect x="1726" y="90" width="39" height="11" fill="#1e90ff"/>
<text transform="translate(1729,99) scale(0.9375,1)" x="0" y="0" font-size="9.6" fill="#fff" stroke="#fff" stroke-width="0.3">5358.69</text>
<rect x="1726" y="269" width="39" height="11" fill="#778899"/>
<text transform="translate(1729,278) scale(0.9375,1)" x="0" y="0" font-size="9.6" fill="#fff" stroke="#fff" stroke-width="0.3">4829.02</text>
<rect x="1726" y="329" width="39" height="11" fill="#1e90ff"/>
<text transform="translate(1729,338) scale(0.9375,1)" x="0" y="0" font-size="9.6" fill="#fff" stroke="#fff" stroke-width="0.3">4651.63</text>
<rect x="1726" y="517" width="39" height="11" fill="#1e90ff"/>
<text transform="translate(1729,526) scale(0.9375,1)" x="0" y="0" font-size="9.6" fill="#fff" stroke="#fff" stroke-width="0.3">4095.44</text>
<rect x="1726" y="778" width="39" height="11" fill="#1e90ff"/>
<text transform="translate(1729,787) scale(0.9375,1)" x="0" y="0" font-size="9.6" fill="#fff" stroke="#fff" stroke-width="0.3">3323.28</text>
<clipPath id="cr"><rect x="3" y="796" width="1720" height="90"/></clipPath>
<g clip-path="url(#cr)">
<line x1="2" y1="822.5" x2="1723" y2="822.5" stroke="#c0c0c0" stroke-width="1" stroke-dasharray="3,3"/>
<line x1="2" y1="859.5" x2="1723" y2="859.5" stroke="#c0c0c0" stroke-width="1" stroke-dasharray="3,3"/>
<polyline points="2.5,835.0 10.5,841.7 18.5,841.4 26.5,840.6 34.5,843.1 42.5,843.2 50.5,843.2 58.5,846.7 66.5,841.3 74.5,842.3 82.5,837.2 90.5,837.0 98.5,833.4 106.5,833.4 114.5,830.3 122.5,826.8 130.5,823.2 138.5,818.9 146.5,816.1 154.5,819.1 162.5,816.6 170.5,813.8 178.5,814.3 186.5,815.2 194.5,815.9 202.5,814.6 210.5,813.3 218.5,812.9 226.5,819.0 234.5,823.0 242.5,821.2 250.5,816.7 258.5,815.6 266.5,821.6 274.5,820.4 282.5,819.5 290.5,815.0 298.5,813.6 306.5,813.3 314.5,815.3 322.5,813.6 330.5,810.2 338.5,809.2 346.5,807.4 354.5,818.3 362.5,816.3 370.5,812.6 378.5,811.5 386.5,809.6 394.5,806.9 402.5,816.0 410.5,813.0 418.5,832.1 426.5,833.6 434.5,832.5 442.5,833.3 450.5,841.7 458.5,843.3 466.5,844.3 474.5,838.8 482.5,840.1 490.5,840.3 498.5,844.5 506.5,841.4 514.5,841.5 522.5,839.9 530.5,832.8 538.5,832.3 546.5,828.8 554.5,830.6 562.5,837.7 570.5,840.2 578.5,838.8 586.5,838.0 594.5,838.1 602.5,839.0 610.5,834.0 618.5,834.4 626.5,832.0 634.5,832.8 642.5,828.4 650.5,827.6 658.5,830.7 666.5,831.3 674.5,830.7 682.5,832.2 690.5,832.8 698.5,831.2 706.5,829.3 714.5,825.1 722.5,823.5 730.5,823.1 738.5,823.4 746.5,820.7 754.5,821.6 762.5,821.2 770.5,814.5 778.5,812.6 786.5,812.9 794.5,810.7 802.5,837.0 810.5,836.6 818.5,838.0 826.5,837.3 834.5,828.8 842.5,826.1 850.5,829.8 858.5,828.7 866.5,826.7 874.5,822.0 882.5,823.4 890.5,821.3 898.5,822.8 906.5,825.3 914.5,821.4 922.5,817.3 930.5,815.0 938.5,812.1 946.5,811.0 954.5,810.3 962.5,807.2 970.5,804.3 978.5,808.2 986.5,836.2 994.5,843.8 1002.5,835.5 1010.5,835.0 1018.5,841.0 1026.5,835.9 1034.5,833.7 1042.5,834.8 1050.5,833.3 1058.5,838.7 1066.5,835.4 1074.5,837.1 1082.5,840.8 1090.5,837.8 1098.5,837.3 1106.5,834.1 1114.5,830.9 1122.5,834.2 1130.5,833.6 1138.5,833.0 1146.5,830.2 1154.5,829.0 1162.5,838.8 1170.5,837.0 1178.5,839.3 1186.5,836.2 1194.5,837.5 1202.5,835.8 1210.5,836.6 1218.5,840.7 1226.5,843.1 1234.5,843.5 1242.5,843.6 1250.5,850.9 1258.5,855.8 1266.5,859.8 1274.5,861.5 1282.5,858.1 1290.5,856.4 1298.5,859.4 1306.5,853.6 1314.5,852.7 1322.5,845.5 1330.5,841.9 1338.5,844.8 1346.5,845.9 1354.5,843.5 1362.5,842.7 1370.5,840.7 1378.5,841.3 1386.5,841.9 1394.5,837.0 1402.5,839.6 1410.5,839.7 1418.5,837.7" fill="none" stroke="#1e90ff" stroke-width="1"/>
</g>
<text transform="translate(6,808) scale(0.9375,1)" x="0" y="0" font-size="9.6" fill="#000" stroke="#000" stroke-width="0.3" textLength="60.8" lengthAdjust="spacing">RSI(14) 53.70</text>
<clipPath id="cs"><rect x="3" y="889" width="1720" height="83"/></clipPath>
<g clip-path="url(#cs)">
<line x1="2" y1="905.5" x2="1723" y2="905.5" stroke="#c0c0c0" stroke-width="1" stroke-dasharray="3,3"/>
<line x1="2" y1="955.5" x2="1723" y2="955.5" stroke="#c0c0c0" stroke-width="1" stroke-dasharray="3,3"/>
<polyline points="3.5,899.3 12.2,906.8 22.3,928.6 34.0,950.4 45.7,958.7 59.1,963.4 70.9,955.4 84.3,929.4 90.5,920.4 98.5,906.2 106.5,900.0 114.5,895.0 122.5,893.7 130.5,893.5 138.5,893.7 146.5,893.8 154.5,894.8 162.5,896.7 170.5,897.9 178.5,899.0 186.5,900.8 194.5,905.4 202.5,908.9 210.5,910.7 218.5,908.2 226.5,907.7 234.5,913.5 242.5,923.1 250.5,925.4 258.5,916.5 266.5,907.1 274.5,905.1 282.5,909.4 290.5,909.5 298.5,905.6 306.5,900.0 314.5,899.4 322.5,900.9 330.5,901.9 338.5,898.8 346.5,895.8 354.5,896.9 362.5,901.6 370.5,906.2 378.5,905.3 386.5,901.0 394.5,896.1 402.5,895.8 410.5,897.9 418.5,908.2 426.5,920.7 434.5,937.6 442.5,945.7 450.5,951.7 458.5,953.8 466.5,958.3 474.5,955.3 482.5,948.6 490.5,935.5 498.5,930.2 506.5,928.8 514.5,936.2 522.5,936.0 530.5,928.3 538.5,912.8 546.5,900.9 554.5,898.0 562.5,904.0 570.5,918.2 578.5,934.6 586.5,946.2 594.5,949.2 602.5,945.9 610.5,936.9 618.5,924.8 626.5,910.4 634.5,902.1 642.5,896.8 650.5,897.1 658.5,899.6 666.5,908.8 674.5,919.4 682.5,929.1 690.5,935.3 698.5,940.0 706.5,939.7 714.5,930.9 722.5,918.9 730.5,909.8 738.5,909.2 746.5,908.9 754.5,909.2 762.5,908.3 770.5,907.8 778.5,904.6 786.5,900.9 794.5,898.4 802.5,906.1 810.5,919.9 818.5,940.4 826.5,952.4 834.5,953.9 842.5,941.7 850.5,924.4 858.5,908.9 866.5,900.5 874.5,897.9 882.5,898.8 890.5,899.3 898.5,900.2 906.5,900.8 914.5,902.4 922.5,902.4 930.5,900.9 938.5,897.2 946.5,895.1 954.5,894.6 962.5,895.4 970.5,895.8 978.5,897.1 986.5,906.1 994.5,922.8 1002.5,938.6 1010.5,944.3 1018.5,941.5 1026.5,935.7 1034.5,929.1 1042.5,917.3 1050.5,906.4 1058.5,901.8 1066.5,905.1 1074.5,914.2 1082.5,924.5 1090.5,934.9 1098.5,938.8 1106.5,928.9 1114.5,913.0 1122.5,900.2 1130.5,898.7 1138.5,904.3 1146.5,906.9 1154.5,907.5 1162.5,912.8 1170.5,923.9 1178.5,939.0 1186.5,945.2 1194.5,947.1 1202.5,940.7 1210.5,933.6 1218.5,926.3 1226.5,930.4 1234.5,942.2 1242.5,955.6 1250.5,962.5 1258.5,962.5 1266.5,962.8 1274.5,959.3 1282.5,955.6 1290.5,947.0 1298.5,940.3 1306.5,932.4 1314.5,926.6 1322.5,916.6 1330.5,908.2 1338.5,901.5 1346.5,903.2 1354.5,908.7 1362.5,915.4 1370.5,918.5 1378.5,920.3 1386.5,920.5 1394.5,919.9 1402.5,917.7 1410.5,914.1 1418.5,913.6" fill="none" stroke="#ff0000" stroke-width="1" stroke-dasharray="3,3"/>
<polyline points="3.5,899.3 11.4,915.2 18.1,942.0 26.5,956.2 35.7,955.4 50.8,963.8 59.1,965.1 65.8,950.4 74.5,940.1 82.5,913.7 90.5,907.5 98.5,897.6 106.5,895.0 114.5,892.3 122.5,893.9 130.5,894.4 138.5,892.9 146.5,894.1 154.5,897.4 162.5,898.7 170.5,897.6 178.5,900.6 186.5,904.2 194.5,911.4 202.5,911.0 210.5,909.7 218.5,904.0 226.5,909.3 234.5,927.3 242.5,932.9 250.5,915.9 258.5,900.8 266.5,904.6 274.5,910.0 282.5,913.6 290.5,904.8 298.5,898.4 306.5,896.9 314.5,902.8 322.5,903.1 330.5,899.8 338.5,893.6 346.5,894.0 354.5,903.0 362.5,907.7 370.5,907.8 378.5,900.5 386.5,894.7 394.5,893.0 402.5,899.7 410.5,900.9 418.5,923.8 426.5,937.3 434.5,951.6 442.5,948.2 450.5,955.2 458.5,958.0 466.5,961.8 474.5,946.2 482.5,937.8 490.5,922.6 498.5,930.2 506.5,933.5 514.5,944.7 522.5,929.8 530.5,910.3 538.5,898.4 546.5,893.9 554.5,901.6 562.5,916.4 570.5,936.6 578.5,950.7 586.5,951.2 594.5,945.7 602.5,940.7 610.5,924.2 618.5,909.6 626.5,897.4 634.5,899.2 642.5,893.8 650.5,898.3 658.5,906.6 666.5,921.6 674.5,929.8 682.5,935.8 690.5,940.2 698.5,944.1 706.5,934.7 714.5,913.9 722.5,908.2 730.5,907.4 738.5,912.1 746.5,907.1 754.5,908.5 762.5,909.2 770.5,905.7 778.5,898.9 786.5,898.0 794.5,898.5 802.5,921.7 810.5,939.6 818.5,960.0 826.5,957.5 834.5,944.1 842.5,923.7 850.5,905.5 858.5,897.5 866.5,898.6 874.5,897.6 882.5,900.1 890.5,900.3 898.5,900.1 906.5,902.0 914.5,905.2 922.5,900.0 930.5,897.6 938.5,894.0 946.5,893.7 954.5,896.2 962.5,896.5 970.5,894.8 978.5,899.9 986.5,923.6 994.5,944.9 1002.5,947.3 1010.5,940.7 1018.5,936.6 1026.5,929.8 1034.5,921.1 1042.5,901.0 1050.5,897.3 1058.5,907.2 1066.5,910.9 1074.5,924.4 1082.5,938.2 1090.5,942.1 1098.5,936.1 1106.5,908.5 1114.5,894.3 1122.5,897.7 1130.5,904.1 1138.5,911.1 1146.5,905.6 1154.5,905.9 1162.5,926.9 1170.5,939.0 1178.5,951.2 1186.5,945.5 1194.5,944.6 1202.5,931.9 1210.5,924.2 1218.5,922.8 1226.5,944.0 1234.5,959.7 1242.5,963.1 1250.5,964.7 1258.5,959.8 1266.5,963.8 1274.5,954.3 1282.5,948.7 1290.5,937.9 1298.5,934.3 1306.5,924.9 1314.5,920.7 1322.5,904.2 1330.5,899.7 1338.5,900.6 1346.5,909.3 1354.5,916.1 1362.5,920.9 1370.5,918.5 1378.5,921.3 1386.5,921.6 1394.5,916.8 1402.5,914.8 1410.5,910.9 1418.5,915.1" fill="none" stroke="#20b2aa" stroke-width="1"/>
</g>
<rect x="5" y="889" width="106" height="14" fill="#fff"/>
<text transform="translate(6,901) scale(0.9375,1)" x="0" y="0" font-size="9.6" fill="#000" stroke="#000" stroke-width="0.3" textLength="107.7" lengthAdjust="spacing">Stoch(5,3,3) 67.97 70.21</text>
<clipPath id="cd"><rect x="3" y="975" width="1720" height="78"/></clipPath>
<g clip-path="url(#cd)">
<rect x="98" y="1019" width="1" height="1" fill="#c0c0c0"/>
<rect x="106" y="1019" width="1" height="1" fill="#c0c0c0"/>
<rect x="114" y="1018" width="1" height="2" fill="#c0c0c0"/>
<rect x="122" y="1017" width="1" height="3" fill="#c0c0c0"/>
<rect x="130" y="1016" width="1" height="4" fill="#c0c0c0"/>
<rect x="138" y="1015" width="1" height="5" fill="#c0c0c0"/>
<rect x="146" y="1013" width="1" height="7" fill="#c0c0c0"/>
<rect x="154" y="1012" width="1" height="8" fill="#c0c0c0"/>
<rect x="162" y="1011" width="1" height="9" fill="#c0c0c0"/>
<rect x="170" y="1010" width="1" height="10" fill="#c0c0c0"/>
<rect x="178" y="1009" width="1" height="11" fill="#c0c0c0"/>
<rect x="186" y="1008" width="1" height="12" fill="#c0c0c0"/>
<rect x="194" y="1008" width="1" height="12" fill="#c0c0c0"/>
<rect x="202" y="1007" width="1" height="13" fill="#c0c0c0"/>
<rect x="210" y="1007" width="1" height="13" fill="#c0c0c0"/>
<rect x="218" y="1006" width="1" height="14" fill="#c0c0c0"/>
<rect x="226" y="1007" width="1" height="13" fill="#c0c0c0"/>
<rect x="234" y="1007" width="1" height="13" fill="#c0c0c0"/>
<rect x="242" y="1007" width="1" height="13" fill="#c0c0c0"/>
<rect x="250" y="1007" width="1" height="13" fill="#c0c0c0"/>
<rect x="258" y="1006" width="1" height="14" fill="#c0c0c0"/>
<rect x="266" y="1006" width="1" height="14" fill="#c0c0c0"/>
<rect x="274" y="1006" width="1" height="14" fill="#c0c0c0"/>
<rect x="282" y="1006" width="1" height="14" fill="#c0c0c0"/>
<rect x="290" y="1005" width="1" height="15" fill="#c0c0c0"/>
<rect x="298" y="1005" width="1" height="15" fill="#c0c0c0"/>
<rect x="306" y="1004" width="1" height="16" fill="#c0c0c0"/>
<rect x="314" y="1004" width="1" height="16" fill="#c0c0c0"/>
<rect x="322" y="1004" width="1" height="16" fill="#c0c0c0"/>
<rect x="330" y="1003" width="1" height="17" fill="#c0c0c0"/>
<rect x="338" y="1002" width="1" height="18" fill="#c0c0c0"/>
<rect x="346" y="1000" width="1" height="20" fill="#c0c0c0"/>
<rect x="354" y="1001" width="1" height="19" fill="#c0c0c0"/>
<rect x="362" y="1000" width="1" height="20" fill="#c0c0c0"/>
<rect x="370" y="999" width="1" height="21" fill="#c0c0c0"/>
<rect x="378" y="998" width="1" height="22" fill="#c0c0c0"/>
<rect x="386" y="996" width="1" height="24" fill="#c0c0c0"/>
<rect x="394" y="994" width="1" height="26" fill="#c0c0c0"/>
<rect x="402" y="993" width="1" height="27" fill="#c0c0c0"/>
<rect x="410" y="992" width="1" height="28" fill="#c0c0c0"/>
<rect x="418" y="994" width="1" height="26" fill="#c0c0c0"/>
<rect x="426" y="996" width="1" height="24" fill="#c0c0c0"/>
<rect x="434" y="998" width="1" height="22" fill="#c0c0c0"/>
<rect x="442" y="1000" width="1" height="20" fill="#c0c0c0"/>
<rect x="450" y="1003" width="1" height="17" fill="#c0c0c0"/>
<rect x="458" y="1006" width="1" height="14" fill="#c0c0c0"/>
<rect x="466" y="1009" width="1" height="11" fill="#c0c0c0"/>
<rect x="474" y="1010" width="1" height="10" fill="#c0c0c0"/>
<rect x="482" y="1012" width="1" height="8" fill="#c0c0c0"/>
<rect x="490" y="1013" width="1" height="7" fill="#c0c0c0"/>
<rect x="498" y="1015" width="1" height="5" fill="#c0c0c0"/>
<rect x="506" y="1016" width="1" height="4" fill="#c0c0c0"/>
<rect x="514" y="1017" width="1" height="3" fill="#c0c0c0"/>
<rect x="522" y="1017" width="1" height="3" fill="#c0c0c0"/>
<rect x="530" y="1016" width="1" height="4" fill="#c0c0c0"/>
<rect x="538" y="1015" width="1" height="5" fill="#c0c0c0"/>
<rect x="546" y="1013" width="1" height="7" fill="#c0c0c0"/>
<rect x="554" y="1012" width="1" height="8" fill="#c0c0c0"/>
<rect x="562" y="1013" width="1" height="7" fill="#c0c0c0"/>
<rect x="570" y="1014" width="1" height="6" fill="#c0c0c0"/>
<rect x="578" y="1014" width="1" height="6" fill="#c0c0c0"/>
<rect x="586" y="1015" width="1" height="5" fill="#c0c0c0"/>
<rect x="594" y="1015" width="1" height="5" fill="#c0c0c0"/>
<rect x="602" y="1016" width="1" height="4" fill="#c0c0c0"/>
<rect x="610" y="1015" width="1" height="5" fill="#c0c0c0"/>
<rect x="618" y="1015" width="1" height="5" fill="#c0c0c0"/>
<rect x="626" y="1014" width="1" height="6" fill="#c0c0c0"/>
<rect x="634" y="1014" width="1" height="6" fill="#c0c0c0"/>
<rect x="642" y="1013" width="1" height="7" fill="#c0c0c0"/>
<rect x="650" y="1012" width="1" height="8" fill="#c0c0c0"/>
<rect x="658" y="1012" width="1" height="8" fill="#c0c0c0"/>
<rect x="666" y="1012" width="1" height="8" fill="#c0c0c0"/>
<rect x="674" y="1012" width="1" height="8" fill="#c0c0c0"/>
<rect x="682" y="1012" width="1" height="8" fill="#c0c0c0"/>
<rect x="690" y="1012" width="1" height="8" fill="#c0c0c0"/>
<rect x="698" y="1013" width="1" height="7" fill="#c0c0c0"/>
<rect x="706" y="1012" width="1" height="8" fill="#c0c0c0"/>
<rect x="714" y="1012" width="1" height="8" fill="#c0c0c0"/>
<rect x="722" y="1011" width="1" height="9" fill="#c0c0c0"/>
<rect x="730" y="1011" width="1" height="9" fill="#c0c0c0"/>
<rect x="738" y="1010" width="1" height="10" fill="#c0c0c0"/>
<rect x="746" y="1010" width="1" height="10" fill="#c0c0c0"/>
<rect x="754" y="1009" width="1" height="11" fill="#c0c0c0"/>
<rect x="762" y="1009" width="1" height="11" fill="#c0c0c0"/>
<rect x="770" y="1008" width="1" height="12" fill="#c0c0c0"/>
<rect x="778" y="1007" width="1" height="13" fill="#c0c0c0"/>
<rect x="786" y="1006" width="1" height="14" fill="#c0c0c0"/>
<rect x="794" y="1004" width="1" height="16" fill="#c0c0c0"/>
<rect x="802" y="1006" width="1" height="14" fill="#c0c0c0"/>
<rect x="810" y="1008" width="1" height="12" fill="#c0c0c0"/>
<rect x="818" y="1009" width="1" height="11" fill="#c0c0c0"/>
<rect x="826" y="1010" width="1" height="10" fill="#c0c0c0"/>
<rect x="834" y="1010" width="1" height="10" fill="#c0c0c0"/>
<rect x="842" y="1009" width="1" height="11" fill="#c0c0c0"/>
<rect x="850" y="1009" width="1" height="11" fill="#c0c0c0"/>
<rect x="858" y="1009" width="1" height="11" fill="#c0c0c0"/>
<rect x="866" y="1008" width="1" height="12" fill="#c0c0c0"/>
<rect x="874" y="1007" width="1" height="13" fill="#c0c0c0"/>
<rect x="882" y="1006" width="1" height="14" fill="#c0c0c0"/>
<rect x="890" y="1005" width="1" height="15" fill="#c0c0c0"/>
<rect x="898" y="1005" width="1" height="15" fill="#c0c0c0"/>
<rect x="906" y="1005" width="1" height="15" fill="#c0c0c0"/>
<rect x="914" y="1004" width="1" height="16" fill="#c0c0c0"/>
<rect x="922" y="1002" width="1" height="18" fill="#c0c0c0"/>
<rect x="930" y="1000" width="1" height="20" fill="#c0c0c0"/>
<rect x="938" y="998" width="1" height="22" fill="#c0c0c0"/>
<rect x="946" y="995" width="1" height="25" fill="#c0c0c0"/>
<rect x="954" y="993" width="1" height="27" fill="#c0c0c0"/>
<rect x="962" y="990" width="1" height="30" fill="#c0c0c0"/>
<rect x="970" y="984" width="1" height="36" fill="#c0c0c0"/>
<rect x="978" y="981" width="1" height="39" fill="#c0c0c0"/>
<rect x="986" y="985" width="1" height="35" fill="#c0c0c0"/>
<rect x="994" y="992" width="1" height="28" fill="#c0c0c0"/>
<rect x="1002" y="994" width="1" height="26" fill="#c0c0c0"/>
<rect x="1010" y="995" width="1" height="25" fill="#c0c0c0"/>
<rect x="1018" y="999" width="1" height="21" fill="#c0c0c0"/>
<rect x="1026" y="1000" width="1" height="20" fill="#c0c0c0"/>
<rect x="1034" y="999" width="1" height="21" fill="#c0c0c0"/>
<rect x="1042" y="1000" width="1" height="20" fill="#c0c0c0"/>
<rect x="1050" y="1000" width="1" height="20" fill="#c0c0c0"/>
<rect x="1058" y="1002" width="1" height="18" fill="#c0c0c0"/>
<rect x="1066" y="1002" width="1" height="18" fill="#c0c0c0"/>
<rect x="1074" y="1003" width="1" height="17" fill="#c0c0c0"/>
<rect x="1082" y="1006" width="1" height="14" fill="#c0c0c0"/>
<rect x="1090" y="1007" width="1" height="13" fill="#c0c0c0"/>
<rect x="1098" y="1007" width="1" height="13" fill="#c0c0c0"/>
<rect x="1106" y="1006" width="1" height="14" fill="#c0c0c0"/>
<rect x="1114" y="1004" width="1" height="16" fill="#c0c0c0"/>
<rect x="1122" y="1004" width="1" height="16" fill="#c0c0c0"/>
<rect x="1130" y="1004" width="1" height="16" fill="#c0c0c0"/>
<rect x="1138" y="1003" width="1" height="17" fill="#c0c0c0"/>
<rect x="1146" y="1002" width="1" height="18" fill="#c0c0c0"/>
<rect x="1154" y="1000" width="1" height="20" fill="#c0c0c0"/>
<rect x="1162" y="1003" width="1" height="17" fill="#c0c0c0"/>
<rect x="1170" y="1004" width="1" height="16" fill="#c0c0c0"/>
<rect x="1178" y="1006" width="1" height="14" fill="#c0c0c0"/>
<rect x="1186" y="1006" width="1" height="14" fill="#c0c0c0"/>
<rect x="1194" y="1007" width="1" height="13" fill="#c0c0c0"/>
<rect x="1202" y="1007" width="1" height="13" fill="#c0c0c0"/>
<rect x="1210" y="1008" width="1" height="12" fill="#c0c0c0"/>
<rect x="1218" y="1010" width="1" height="10" fill="#c0c0c0"/>
<rect x="1226" y="1012" width="1" height="8" fill="#c0c0c0"/>
<rect x="1234" y="1014" width="1" height="6" fill="#c0c0c0"/>
<rect x="1242" y="1016" width="1" height="4" fill="#c0c0c0"/>
<rect x="1258" y="1021" width="1" height="5" fill="#c0c0c0"/>
<rect x="1266" y="1021" width="1" height="11" fill="#c0c0c0"/>
<rect x="1274" y="1021" width="1" height="17" fill="#c0c0c0"/>
<rect x="1282" y="1021" width="1" height="21" fill="#c0c0c0"/>
<rect x="1290" y="1021" width="1" height="23" fill="#c0c0c0"/>
<rect x="1298" y="1021" width="1" height="26" fill="#c0c0c0"/>
<rect x="1306" y="1021" width="1" height="26" fill="#c0c0c0"/>
<rect x="1314" y="1021" width="1" height="26" fill="#c0c0c0"/>
<rect x="1322" y="1021" width="1" height="24" fill="#c0c0c0"/>
<rect x="1330" y="1021" width="1" height="20" fill="#c0c0c0"/>
<rect x="1338" y="1021" width="1" height="18" fill="#c0c0c0"/>
<rect x="1346" y="1021" width="1" height="17" fill="#c0c0c0"/>
<rect x="1354" y="1021" width="1" height="15" fill="#c0c0c0"/>
<rect x="1362" y="1021" width="1" height="13" fill="#c0c0c0"/>
<rect x="1370" y="1021" width="1" height="11" fill="#c0c0c0"/>
<rect x="1378" y="1021" width="1" height="10" fill="#c0c0c0"/>
<rect x="1386" y="1021" width="1" height="8" fill="#c0c0c0"/>
<rect x="1394" y="1021" width="1" height="6" fill="#c0c0c0"/>
<rect x="1402" y="1021" width="1" height="5" fill="#c0c0c0"/>
<rect x="1410" y="1021" width="1" height="4" fill="#c0c0c0"/>
<rect x="1418" y="1021" width="1" height="2" fill="#c0c0c0"/>
<polyline points="2.5,1021.1 10.5,1021.0 18.5,1020.9 26.5,1020.9 34.5,1020.9 42.5,1020.9 50.5,1020.9 58.5,1020.9 66.5,1020.9 74.5,1020.9 82.5,1020.9 90.5,1020.8 98.5,1020.7 106.5,1020.5 114.5,1020.2 122.5,1019.9 130.5,1019.4 138.5,1018.7 146.5,1017.9 154.5,1017.0 162.5,1016.0 170.5,1015.0 178.5,1013.9 186.5,1012.7 194.5,1011.7 202.5,1010.7 210.5,1009.8 218.5,1009.1 226.5,1008.5 234.5,1008.0 242.5,1007.8 250.5,1007.5 258.5,1007.3 266.5,1007.1 274.5,1007.0 282.5,1006.9 290.5,1006.8 298.5,1006.6 306.5,1006.3 314.5,1005.9 322.5,1005.6 330.5,1005.2 338.5,1004.8 346.5,1004.1 354.5,1003.5 362.5,1003.0 370.5,1002.3 378.5,1001.7 386.5,1000.8 394.5,999.8 402.5,998.7 410.5,997.6 418.5,996.9 426.5,996.4 434.5,996.1 442.5,996.2 450.5,996.8 458.5,997.9 466.5,999.6 474.5,1001.5 482.5,1003.7 490.5,1005.8 498.5,1007.9 506.5,1009.9 514.5,1011.8 522.5,1013.3 530.5,1014.3 538.5,1015.0 546.5,1015.2 554.5,1015.3 562.5,1015.3 570.5,1015.1 578.5,1015.0 586.5,1014.8 594.5,1014.6 602.5,1014.5 610.5,1014.6 618.5,1014.8 626.5,1015.0 634.5,1015.1 642.5,1015.0 650.5,1014.8 658.5,1014.5 666.5,1014.1 674.5,1013.7 682.5,1013.4 690.5,1013.1 698.5,1012.9 706.5,1012.7 714.5,1012.6 722.5,1012.5 730.5,1012.3 738.5,1012.2 746.5,1011.9 754.5,1011.6 762.5,1011.3 770.5,1010.8 778.5,1010.2 786.5,1009.5 794.5,1008.7 802.5,1008.2 810.5,1007.9 818.5,1007.8 826.5,1007.9 834.5,1008.0 842.5,1008.1 850.5,1008.4 858.5,1008.7 866.5,1009.2 874.5,1009.3 882.5,1009.1 890.5,1008.6 898.5,1008.0 906.5,1007.4 914.5,1006.9 922.5,1006.2 930.5,1005.2 938.5,1004.1 946.5,1002.8 954.5,1001.3 962.5,999.6 970.5,997.4 978.5,994.7 986.5,992.6 994.5,991.4 1002.5,990.7 1010.5,990.4 1018.5,990.8 1026.5,991.5 1034.5,992.6 1042.5,994.4 1050.5,996.5 1058.5,998.3 1066.5,999.4 1074.5,1000.5 1082.5,1001.7 1090.5,1002.6 1098.5,1003.4 1106.5,1004.2 1114.5,1004.6 1122.5,1005.1 1130.5,1005.3 1138.5,1005.4 1146.5,1005.3 1154.5,1004.7 1162.5,1004.2 1170.5,1003.8 1178.5,1003.8 1186.5,1004.0 1194.5,1004.4 1202.5,1004.8 1210.5,1005.3 1218.5,1006.2 1226.5,1007.5 1234.5,1008.8 1242.5,1010.2 1250.5,1011.7 1258.5,1013.8 1266.5,1016.5 1274.5,1019.8 1282.5,1023.4 1290.5,1027.0 1298.5,1030.7 1306.5,1034.3 1314.5,1037.6 1322.5,1040.2 1330.5,1041.9 1338.5,1042.7 1346.5,1042.8 1354.5,1042.2 1362.5,1041.2 1370.5,1039.6 1378.5,1037.7 1386.5,1035.8 1394.5,1033.8 1402.5,1032.1 1410.5,1030.4 1418.5,1028.7" fill="none" stroke="#ff0000" stroke-width="1" stroke-dasharray="3,3"/>
</g>
<text transform="translate(6,987) scale(0.9375,1)" x="0" y="0" font-size="9.6" fill="#000" stroke="#000" stroke-width="0.3" textLength="141.9" lengthAdjust="spacing">MACD(12,26,9) -12.349 -49.376</text>
<rect x="1724" y="822" width="4" height="1" fill="#000"/>
<rect x="1724" y="859" width="4" height="1" fill="#000"/>
<rect x="1724" y="796" width="4" height="1" fill="#000"/>
<text transform="translate(1729,805) scale(0.9375,1)" x="0" y="0" font-size="9.6" fill="#000" stroke="#000" stroke-width="0.3">100.00</text>
<rect x="1724" y="822" width="4" height="1" fill="#000"/>
<text transform="translate(1729,826) scale(0.9375,1)" x="0" y="0" font-size="9.6" fill="#000" stroke="#000" stroke-width="0.3">70.00</text>
<rect x="1724" y="859" width="4" height="1" fill="#000"/>
<text transform="translate(1729,863) scale(0.9375,1)" x="0" y="0" font-size="9.6" fill="#000" stroke="#000" stroke-width="0.3">30.00</text>
<rect x="1724" y="885" width="4" height="1" fill="#000"/>
<text transform="translate(1729,884) scale(0.9375,1)" x="0" y="0" font-size="9.6" fill="#000" stroke="#000" stroke-width="0.3">0.00</text>
<rect x="1724" y="889" width="4" height="1" fill="#000"/>
<text transform="translate(1729,897.5) scale(0.9375,1)" x="0" y="0" font-size="9.6" fill="#000" stroke="#000" stroke-width="0.3">100.00</text>
<rect x="1724" y="905" width="4" height="1" fill="#000"/>
<text transform="translate(1729,909) scale(0.9375,1)" x="0" y="0" font-size="9.6" fill="#000" stroke="#000" stroke-width="0.3">80.00</text>
<rect x="1724" y="955" width="4" height="1" fill="#000"/>
<text transform="translate(1729,959) scale(0.9375,1)" x="0" y="0" font-size="9.6" fill="#000" stroke="#000" stroke-width="0.3">20.00</text>
<rect x="1724" y="971" width="4" height="1" fill="#000"/>
<text transform="translate(1729,970) scale(0.9375,1)" x="0" y="0" font-size="9.6" fill="#000" stroke="#000" stroke-width="0.3">0.00</text>
<rect x="1724" y="975" width="4" height="1" fill="#000"/>
<text transform="translate(1729,983) scale(0.9375,1)" x="0" y="0" font-size="9.6" fill="#000" stroke="#000" stroke-width="0.3">278.486</text>
<text transform="translate(1729,1023) scale(0.9375,1)" x="0" y="0" font-size="9.6" fill="#000" stroke="#000" stroke-width="0.3">0.000</text>
<rect x="1724" y="1052" width="4" height="1" fill="#000"/>
<text transform="translate(1729,1051) scale(0.9375,1)" x="0" y="0" font-size="9.6" fill="#000" stroke="#000" stroke-width="0.3">-199.010</text>
<rect x="2" y="1054" width="1" height="4" fill="#000"/>
<text transform="translate(2,1066) scale(0.9375,1)" x="0" y="0" font-size="9.6" fill="#000" stroke="#000" stroke-width="0.3">8 Aug 2025</text>
<rect x="66" y="1054" width="1" height="4" fill="#000"/>
<text transform="translate(66,1066) scale(0.9375,1)" x="0" y="0" font-size="9.6" fill="#000" stroke="#000" stroke-width="0.3">20 Aug 2025</text>
<rect x="130" y="1054" width="1" height="4" fill="#000"/>
<text transform="translate(130,1066) scale(0.9375,1)" x="0" y="0" font-size="9.6" fill="#000" stroke="#000" stroke-width="0.3">1 Sep 2025</text>
<rect x="194" y="1054" width="1" height="4" fill="#000"/>
<text transform="translate(194,1066) scale(0.9375,1)" x="0" y="0" font-size="9.6" fill="#000" stroke="#000" stroke-width="0.3">11 Sep 2025</text>
<rect x="258" y="1054" width="1" height="4" fill="#000"/>
<text transform="translate(258,1066) scale(0.9375,1)" x="0" y="0" font-size="9.6" fill="#000" stroke="#000" stroke-width="0.3">23 Sep 2025</text>
<rect x="322" y="1054" width="1" height="4" fill="#000"/>
<text transform="translate(322,1066) scale(0.9375,1)" x="0" y="0" font-size="9.6" fill="#000" stroke="#000" stroke-width="0.3">3 Oct 2025</text>
<rect x="386" y="1054" width="1" height="4" fill="#000"/>
<text transform="translate(386,1066) scale(0.9375,1)" x="0" y="0" font-size="9.6" fill="#000" stroke="#000" stroke-width="0.3">15 Oct 2025</text>
<rect x="450" y="1054" width="1" height="4" fill="#000"/>
<text transform="translate(450,1066) scale(0.9375,1)" x="0" y="0" font-size="9.6" fill="#000" stroke="#000" stroke-width="0.3">27 Oct 2025</text>
<rect x="514" y="1054" width="1" height="4" fill="#000"/>
<text transform="translate(514,1066) scale(0.9375,1)" x="0" y="0" font-size="9.6" fill="#000" stroke="#000" stroke-width="0.3">6 Nov 2025</text>
<rect x="578" y="1054" width="1" height="4" fill="#000"/>
<text transform="translate(578,1066) scale(0.9375,1)" x="0" y="0" font-size="9.6" fill="#000" stroke="#000" stroke-width="0.3">18 Nov 2025</text>
<rect x="642" y="1054" width="1" height="4" fill="#000"/>
<text transform="translate(642,1066) scale(0.9375,1)" x="0" y="0" font-size="9.6" fill="#000" stroke="#000" stroke-width="0.3">28 Nov 2025</text>
<rect x="706" y="1054" width="1" height="4" fill="#000"/>
<text transform="translate(706,1066) scale(0.9375,1)" x="0" y="0" font-size="9.6" fill="#000" stroke="#000" stroke-width="0.3">10 Dec 2025</text>
<rect x="770" y="1054" width="1" height="4" fill="#000"/>
<text transform="translate(770,1066) scale(0.9375,1)" x="0" y="0" font-size="9.6" fill="#000" stroke="#000" stroke-width="0.3">22 Dec 2025</text>
<rect x="834" y="1054" width="1" height="4" fill="#000"/>
<text transform="translate(834,1066) scale(0.9375,1)" x="0" y="0" font-size="9.6" fill="#000" stroke="#000" stroke-width="0.3">5 Jan 2026</text>
<rect x="898" y="1054" width="1" height="4" fill="#000"/>
<text transform="translate(898,1066) scale(0.9375,1)" x="0" y="0" font-size="9.6" fill="#000" stroke="#000" stroke-width="0.3">15 Jan 2026</text>
<rect x="962" y="1054" width="1" height="4" fill="#000"/>
<text transform="translate(962,1066) scale(0.9375,1)" x="0" y="0" font-size="9.6" fill="#000" stroke="#000" stroke-width="0.3">27 Jan 2026</text>
<rect x="1026" y="1054" width="1" height="4" fill="#000"/>
<text transform="translate(1026,1066) scale(0.9375,1)" x="0" y="0" font-size="9.6" fill="#000" stroke="#000" stroke-width="0.3">6 Feb 2026</text>
<rect x="1090" y="1054" width="1" height="4" fill="#000"/>
<text transform="translate(1090,1066) scale(0.9375,1)" x="0" y="0" font-size="9.6" fill="#000" stroke="#000" stroke-width="0.3">18 Feb 2026</text>
<rect x="1154" y="1054" width="1" height="4" fill="#000"/>
<text transform="translate(1154,1066) scale(0.9375,1)" x="0" y="0" font-size="9.6" fill="#000" stroke="#000" stroke-width="0.3">2 Mar 2026</text>
<rect x="1218" y="1054" width="1" height="4" fill="#000"/>
<text transform="translate(1218,1066) scale(0.9375,1)" x="0" y="0" font-size="9.6" fill="#000" stroke="#000" stroke-width="0.3">12 Mar 2026</text>
<rect x="1282" y="1054" width="1" height="4" fill="#000"/>
<text transform="translate(1282,1066) scale(0.9375,1)" x="0" y="0" font-size="9.6" fill="#000" stroke="#000" stroke-width="0.3">24 Mar 2026</text>
<rect x="1346" y="1054" width="1" height="4" fill="#000"/>
<text transform="translate(1346,1066) scale(0.9375,1)" x="0" y="0" font-size="9.6" fill="#000" stroke="#000" stroke-width="0.3">6 Apr 2026</text>
<rect x="1410" y="1054" width="1" height="4" fill="#000"/>
<text transform="translate(1410,1066) scale(0.9375,1)" x="0" y="0" font-size="9.6" fill="#000" stroke="#000" stroke-width="0.3">16 Apr 2026</text>
</svg></body></html>
